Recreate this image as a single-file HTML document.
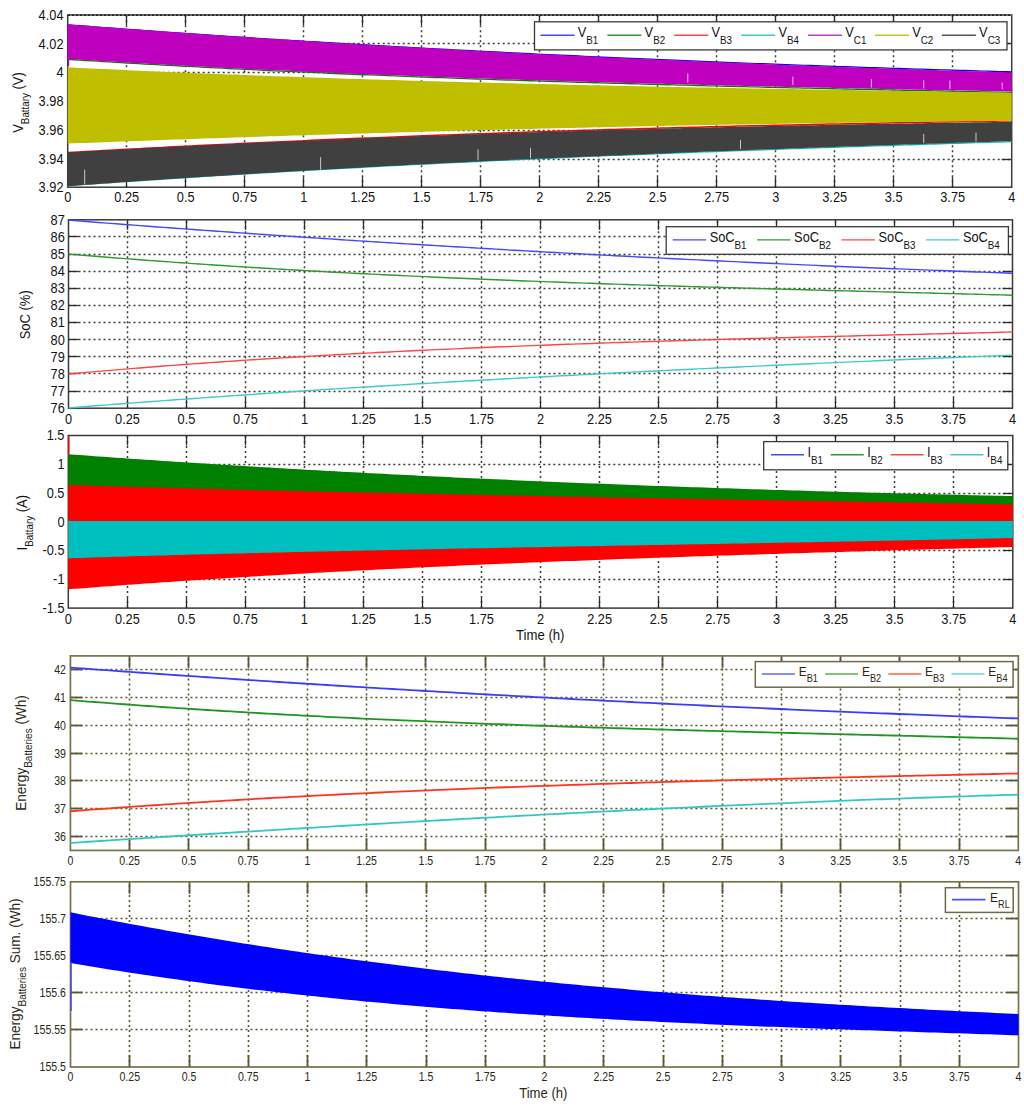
<!DOCTYPE html><html><head><meta charset="utf-8"><style>html,body{margin:0;padding:0;background:#fff;}svg{display:block;}</style></head><body>
<svg width="1024" height="1108" viewBox="0 0 1024 1108" font-family='"Liberation Sans", sans-serif'>
<rect width="1024" height="1108" fill="#fff"/>
<line x1="126.50" y1="187.20" x2="126.50" y2="15.00" stroke="#3a3a3a" stroke-width="1.5" stroke-dasharray="2 3"/>
<line x1="185.50" y1="187.20" x2="185.50" y2="15.00" stroke="#3a3a3a" stroke-width="1.5" stroke-dasharray="2 3"/>
<line x1="244.50" y1="187.20" x2="244.50" y2="15.00" stroke="#3a3a3a" stroke-width="1.5" stroke-dasharray="2 3"/>
<line x1="303.50" y1="187.20" x2="303.50" y2="15.00" stroke="#3a3a3a" stroke-width="1.5" stroke-dasharray="2 3"/>
<line x1="362.50" y1="187.20" x2="362.50" y2="15.00" stroke="#3a3a3a" stroke-width="1.5" stroke-dasharray="2 3"/>
<line x1="421.50" y1="187.20" x2="421.50" y2="15.00" stroke="#3a3a3a" stroke-width="1.5" stroke-dasharray="2 3"/>
<line x1="480.50" y1="187.20" x2="480.50" y2="15.00" stroke="#3a3a3a" stroke-width="1.5" stroke-dasharray="2 3"/>
<line x1="539.50" y1="187.20" x2="539.50" y2="15.00" stroke="#3a3a3a" stroke-width="1.5" stroke-dasharray="2 3"/>
<line x1="598.50" y1="187.20" x2="598.50" y2="15.00" stroke="#3a3a3a" stroke-width="1.5" stroke-dasharray="2 3"/>
<line x1="657.50" y1="187.20" x2="657.50" y2="15.00" stroke="#3a3a3a" stroke-width="1.5" stroke-dasharray="2 3"/>
<line x1="716.50" y1="187.20" x2="716.50" y2="15.00" stroke="#3a3a3a" stroke-width="1.5" stroke-dasharray="2 3"/>
<line x1="775.50" y1="187.20" x2="775.50" y2="15.00" stroke="#3a3a3a" stroke-width="1.5" stroke-dasharray="2 3"/>
<line x1="834.50" y1="187.20" x2="834.50" y2="15.00" stroke="#3a3a3a" stroke-width="1.5" stroke-dasharray="2 3"/>
<line x1="893.50" y1="187.20" x2="893.50" y2="15.00" stroke="#3a3a3a" stroke-width="1.5" stroke-dasharray="2 3"/>
<line x1="952.50" y1="187.20" x2="952.50" y2="15.00" stroke="#3a3a3a" stroke-width="1.5" stroke-dasharray="2 3"/>
<line x1="67.70" y1="159.50" x2="1011.70" y2="159.50" stroke="#3a3a3a" stroke-width="1.5" stroke-dasharray="2 3"/>
<line x1="67.70" y1="130.50" x2="1011.70" y2="130.50" stroke="#3a3a3a" stroke-width="1.5" stroke-dasharray="2 3"/>
<line x1="67.70" y1="101.50" x2="1011.70" y2="101.50" stroke="#3a3a3a" stroke-width="1.5" stroke-dasharray="2 3"/>
<line x1="67.70" y1="72.50" x2="1011.70" y2="72.50" stroke="#3a3a3a" stroke-width="1.5" stroke-dasharray="2 3"/>
<line x1="67.70" y1="43.50" x2="1011.70" y2="43.50" stroke="#3a3a3a" stroke-width="1.5" stroke-dasharray="2 3"/>
<line x1="126.50" y1="187.20" x2="126.50" y2="177.20" stroke="#2a2a2a" stroke-width="1.3"/>
<line x1="126.50" y1="15.00" x2="126.50" y2="25.00" stroke="#2a2a2a" stroke-width="1.3"/>
<line x1="185.50" y1="187.20" x2="185.50" y2="177.20" stroke="#2a2a2a" stroke-width="1.3"/>
<line x1="185.50" y1="15.00" x2="185.50" y2="25.00" stroke="#2a2a2a" stroke-width="1.3"/>
<line x1="244.50" y1="187.20" x2="244.50" y2="177.20" stroke="#2a2a2a" stroke-width="1.3"/>
<line x1="244.50" y1="15.00" x2="244.50" y2="25.00" stroke="#2a2a2a" stroke-width="1.3"/>
<line x1="303.50" y1="187.20" x2="303.50" y2="177.20" stroke="#2a2a2a" stroke-width="1.3"/>
<line x1="303.50" y1="15.00" x2="303.50" y2="25.00" stroke="#2a2a2a" stroke-width="1.3"/>
<line x1="362.50" y1="187.20" x2="362.50" y2="177.20" stroke="#2a2a2a" stroke-width="1.3"/>
<line x1="362.50" y1="15.00" x2="362.50" y2="25.00" stroke="#2a2a2a" stroke-width="1.3"/>
<line x1="421.50" y1="187.20" x2="421.50" y2="177.20" stroke="#2a2a2a" stroke-width="1.3"/>
<line x1="421.50" y1="15.00" x2="421.50" y2="25.00" stroke="#2a2a2a" stroke-width="1.3"/>
<line x1="480.50" y1="187.20" x2="480.50" y2="177.20" stroke="#2a2a2a" stroke-width="1.3"/>
<line x1="480.50" y1="15.00" x2="480.50" y2="25.00" stroke="#2a2a2a" stroke-width="1.3"/>
<line x1="539.50" y1="187.20" x2="539.50" y2="177.20" stroke="#2a2a2a" stroke-width="1.3"/>
<line x1="539.50" y1="15.00" x2="539.50" y2="25.00" stroke="#2a2a2a" stroke-width="1.3"/>
<line x1="598.50" y1="187.20" x2="598.50" y2="177.20" stroke="#2a2a2a" stroke-width="1.3"/>
<line x1="598.50" y1="15.00" x2="598.50" y2="25.00" stroke="#2a2a2a" stroke-width="1.3"/>
<line x1="657.50" y1="187.20" x2="657.50" y2="177.20" stroke="#2a2a2a" stroke-width="1.3"/>
<line x1="657.50" y1="15.00" x2="657.50" y2="25.00" stroke="#2a2a2a" stroke-width="1.3"/>
<line x1="716.50" y1="187.20" x2="716.50" y2="177.20" stroke="#2a2a2a" stroke-width="1.3"/>
<line x1="716.50" y1="15.00" x2="716.50" y2="25.00" stroke="#2a2a2a" stroke-width="1.3"/>
<line x1="775.50" y1="187.20" x2="775.50" y2="177.20" stroke="#2a2a2a" stroke-width="1.3"/>
<line x1="775.50" y1="15.00" x2="775.50" y2="25.00" stroke="#2a2a2a" stroke-width="1.3"/>
<line x1="834.50" y1="187.20" x2="834.50" y2="177.20" stroke="#2a2a2a" stroke-width="1.3"/>
<line x1="834.50" y1="15.00" x2="834.50" y2="25.00" stroke="#2a2a2a" stroke-width="1.3"/>
<line x1="893.50" y1="187.20" x2="893.50" y2="177.20" stroke="#2a2a2a" stroke-width="1.3"/>
<line x1="893.50" y1="15.00" x2="893.50" y2="25.00" stroke="#2a2a2a" stroke-width="1.3"/>
<line x1="952.50" y1="187.20" x2="952.50" y2="177.20" stroke="#2a2a2a" stroke-width="1.3"/>
<line x1="952.50" y1="15.00" x2="952.50" y2="25.00" stroke="#2a2a2a" stroke-width="1.3"/>
<line x1="67.70" y1="159.50" x2="77.70" y2="159.50" stroke="#2a2a2a" stroke-width="1.3"/>
<line x1="1011.70" y1="159.50" x2="1001.70" y2="159.50" stroke="#2a2a2a" stroke-width="1.3"/>
<line x1="67.70" y1="130.50" x2="77.70" y2="130.50" stroke="#2a2a2a" stroke-width="1.3"/>
<line x1="1011.70" y1="130.50" x2="1001.70" y2="130.50" stroke="#2a2a2a" stroke-width="1.3"/>
<line x1="67.70" y1="101.50" x2="77.70" y2="101.50" stroke="#2a2a2a" stroke-width="1.3"/>
<line x1="1011.70" y1="101.50" x2="1001.70" y2="101.50" stroke="#2a2a2a" stroke-width="1.3"/>
<line x1="67.70" y1="72.50" x2="77.70" y2="72.50" stroke="#2a2a2a" stroke-width="1.3"/>
<line x1="1011.70" y1="72.50" x2="1001.70" y2="72.50" stroke="#2a2a2a" stroke-width="1.3"/>
<line x1="67.70" y1="43.50" x2="77.70" y2="43.50" stroke="#2a2a2a" stroke-width="1.3"/>
<line x1="1011.70" y1="43.50" x2="1001.70" y2="43.50" stroke="#2a2a2a" stroke-width="1.3"/>
<rect x="67.70" y="15.00" width="944.00" height="172.20" fill="none" stroke="#3a3a3a" stroke-width="1.5"/>
<line x1="68" y1="15.2" x2="1012" y2="15.2" stroke="#111" stroke-width="1.2" stroke-dasharray="2 2"/>
<path d="M67.70,24.81 L73.64,25.26 L79.57,25.72 L85.51,26.17 L91.45,26.62 L97.39,27.06 L103.32,27.51 L109.26,27.95 L115.20,28.39 L121.13,28.83 L127.07,29.26 L133.01,29.69 L138.95,30.12 L144.88,30.55 L150.82,30.97 L156.76,31.40 L162.69,31.82 L168.63,32.24 L174.57,32.65 L180.51,33.07 L186.44,33.48 L192.38,33.89 L198.32,34.29 L204.25,34.70 L210.19,35.10 L216.13,35.50 L222.06,35.90 L228.00,36.29 L233.94,36.69 L239.88,37.08 L245.81,37.47 L251.75,37.86 L257.69,38.24 L263.62,38.62 L269.56,39.00 L275.50,39.38 L281.44,39.76 L287.37,40.13 L293.31,40.50 L299.25,40.87 L305.18,41.24 L311.12,41.61 L317.06,41.97 L323.00,42.33 L328.93,42.69 L334.87,43.05 L340.81,43.40 L346.74,43.75 L352.68,44.11 L358.62,44.45 L364.56,44.80 L370.49,45.15 L376.43,45.49 L382.37,45.83 L388.30,46.17 L394.24,46.50 L400.18,46.84 L406.12,47.17 L412.05,47.50 L417.99,47.83 L423.93,48.16 L429.86,48.48 L435.80,48.80 L441.74,49.12 L447.67,49.44 L453.61,49.76 L459.55,50.07 L465.49,50.39 L471.42,50.70 L477.36,51.01 L483.30,51.31 L489.23,51.62 L495.17,51.92 L501.11,52.22 L507.05,52.52 L512.98,52.82 L518.92,53.12 L524.86,53.41 L530.79,53.70 L536.73,53.99 L542.67,54.28 L548.61,54.57 L554.54,54.85 L560.48,55.13 L566.42,55.41 L572.35,55.69 L578.29,55.97 L584.23,56.25 L590.17,56.52 L596.10,56.79 L602.04,57.06 L607.98,57.33 L613.91,57.60 L619.85,57.86 L625.79,58.13 L631.73,58.39 L637.66,58.65 L643.60,58.90 L649.54,59.16 L655.47,59.42 L661.41,59.67 L667.35,59.92 L673.28,60.17 L679.22,60.42 L685.16,60.66 L691.10,60.91 L697.03,61.15 L702.97,61.39 L708.91,61.63 L714.84,61.87 L720.78,62.10 L726.72,62.34 L732.66,62.57 L738.59,62.80 L744.53,63.03 L750.47,63.26 L756.40,63.49 L762.34,63.71 L768.28,63.94 L774.22,64.16 L780.15,64.38 L786.09,64.60 L792.03,64.81 L797.96,65.03 L803.90,65.24 L809.84,65.46 L815.78,65.67 L821.71,65.88 L827.65,66.09 L833.59,66.29 L839.52,66.50 L845.46,66.70 L851.40,66.90 L857.34,67.10 L863.27,67.30 L869.21,67.50 L875.15,67.70 L881.08,67.89 L887.02,68.08 L892.96,68.28 L898.89,68.47 L904.83,68.66 L910.77,68.84 L916.71,69.03 L922.64,69.22 L928.58,69.40 L934.52,69.58 L940.45,69.76 L946.39,69.94 L952.33,70.12 L958.27,70.30 L964.20,70.47 L970.14,70.65 L976.08,70.82 L982.01,70.99 L987.95,71.16 L993.89,71.33 L999.83,71.50 L1005.76,71.66 L1011.70,71.83" fill="none" stroke="#0000ff" stroke-width="1.2"/>
<path d="M67.70,59.37 L73.64,59.75 L79.57,60.12 L85.51,60.49 L91.45,60.86 L97.39,61.22 L103.32,61.58 L109.26,61.94 L115.20,62.30 L121.13,62.65 L127.07,63.00 L133.01,63.35 L138.95,63.69 L144.88,64.03 L150.82,64.37 L156.76,64.70 L162.69,65.03 L168.63,65.36 L174.57,65.69 L180.51,66.01 L186.44,66.33 L192.38,66.65 L198.32,66.96 L204.25,67.28 L210.19,67.59 L216.13,67.89 L222.06,68.20 L228.00,68.50 L233.94,68.80 L239.88,69.09 L245.81,69.38 L251.75,69.67 L257.69,69.96 L263.62,70.25 L269.56,70.53 L275.50,70.81 L281.44,71.09 L287.37,71.37 L293.31,71.64 L299.25,71.91 L305.18,72.18 L311.12,72.44 L317.06,72.71 L323.00,72.97 L328.93,73.23 L334.87,73.48 L340.81,73.74 L346.74,73.99 L352.68,74.24 L358.62,74.48 L364.56,74.73 L370.49,74.97 L376.43,75.21 L382.37,75.45 L388.30,75.69 L394.24,75.92 L400.18,76.15 L406.12,76.38 L412.05,76.61 L417.99,76.84 L423.93,77.06 L429.86,77.28 L435.80,77.50 L441.74,77.72 L447.67,77.94 L453.61,78.15 L459.55,78.36 L465.49,78.57 L471.42,78.78 L477.36,78.99 L483.30,79.19 L489.23,79.39 L495.17,79.60 L501.11,79.79 L507.05,79.99 L512.98,80.19 L518.92,80.38 L524.86,80.57 L530.79,80.77 L536.73,80.95 L542.67,81.14 L548.61,81.33 L554.54,81.51 L560.48,81.69 L566.42,81.88 L572.35,82.05 L578.29,82.23 L584.23,82.41 L590.17,82.58 L596.10,82.76 L602.04,82.93 L607.98,83.10 L613.91,83.27 L619.85,83.44 L625.79,83.60 L631.73,83.77 L637.66,83.93 L643.60,84.10 L649.54,84.26 L655.47,84.42 L661.41,84.58 L667.35,84.73 L673.28,84.89 L679.22,85.05 L685.16,85.20 L691.10,85.35 L697.03,85.50 L702.97,85.66 L708.91,85.80 L714.84,85.95 L720.78,86.10 L726.72,86.25 L732.66,86.39 L738.59,86.54 L744.53,86.68 L750.47,86.82 L756.40,86.96 L762.34,87.11 L768.28,87.25 L774.22,87.38 L780.15,87.52 L786.09,87.66 L792.03,87.80 L797.96,87.93 L803.90,88.07 L809.84,88.20 L815.78,88.33 L821.71,88.47 L827.65,88.60 L833.59,88.73 L839.52,88.86 L845.46,88.99 L851.40,89.12 L857.34,89.25 L863.27,89.38 L869.21,89.51 L875.15,89.63 L881.08,89.76 L887.02,89.89 L892.96,90.01 L898.89,90.14 L904.83,90.26 L910.77,90.39 L916.71,90.51 L922.64,90.64 L928.58,90.76 L934.52,90.88 L940.45,91.00 L946.39,91.13 L952.33,91.25 L958.27,91.37 L964.20,91.49 L970.14,91.61 L976.08,91.74 L982.01,91.86 L987.95,91.98 L993.89,92.10 L999.83,92.22 L1005.76,92.34 L1011.70,92.46" fill="none" stroke="#008000" stroke-width="1.3"/>
<path d="M67.70,152.55 L73.64,152.21 L79.57,151.88 L85.51,151.54 L91.45,151.21 L97.39,150.88 L103.32,150.56 L109.26,150.23 L115.20,149.91 L121.13,149.59 L127.07,149.27 L133.01,148.95 L138.95,148.64 L144.88,148.33 L150.82,148.02 L156.76,147.71 L162.69,147.40 L168.63,147.10 L174.57,146.79 L180.51,146.49 L186.44,146.20 L192.38,145.90 L198.32,145.60 L204.25,145.31 L210.19,145.02 L216.13,144.73 L222.06,144.44 L228.00,144.16 L233.94,143.88 L239.88,143.59 L245.81,143.32 L251.75,143.04 L257.69,142.76 L263.62,142.49 L269.56,142.22 L275.50,141.95 L281.44,141.68 L287.37,141.41 L293.31,141.15 L299.25,140.89 L305.18,140.63 L311.12,140.37 L317.06,140.11 L323.00,139.85 L328.93,139.60 L334.87,139.35 L340.81,139.10 L346.74,138.85 L352.68,138.61 L358.62,138.36 L364.56,138.12 L370.49,137.88 L376.43,137.64 L382.37,137.40 L388.30,137.17 L394.24,136.93 L400.18,136.70 L406.12,136.47 L412.05,136.24 L417.99,136.01 L423.93,135.79 L429.86,135.56 L435.80,135.34 L441.74,135.12 L447.67,134.90 L453.61,134.69 L459.55,134.47 L465.49,134.26 L471.42,134.05 L477.36,133.84 L483.30,133.63 L489.23,133.42 L495.17,133.21 L501.11,133.01 L507.05,132.81 L512.98,132.61 L518.92,132.41 L524.86,132.21 L530.79,132.02 L536.73,131.82 L542.67,131.63 L548.61,131.44 L554.54,131.25 L560.48,131.06 L566.42,130.88 L572.35,130.69 L578.29,130.51 L584.23,130.33 L590.17,130.15 L596.10,129.97 L602.04,129.79 L607.98,129.62 L613.91,129.44 L619.85,129.27 L625.79,129.10 L631.73,128.93 L637.66,128.76 L643.60,128.59 L649.54,128.43 L655.47,128.26 L661.41,128.10 L667.35,127.94 L673.28,127.78 L679.22,127.62 L685.16,127.47 L691.10,127.31 L697.03,127.16 L702.97,127.01 L708.91,126.86 L714.84,126.71 L720.78,126.56 L726.72,126.41 L732.66,126.27 L738.59,126.12 L744.53,125.98 L750.47,125.84 L756.40,125.70 L762.34,125.56 L768.28,125.42 L774.22,125.29 L780.15,125.15 L786.09,125.02 L792.03,124.89 L797.96,124.76 L803.90,124.63 L809.84,124.50 L815.78,124.37 L821.71,124.25 L827.65,124.12 L833.59,124.00 L839.52,123.88 L845.46,123.76 L851.40,123.64 L857.34,123.52 L863.27,123.41 L869.21,123.29 L875.15,123.18 L881.08,123.06 L887.02,122.95 L892.96,122.84 L898.89,122.73 L904.83,122.62 L910.77,122.52 L916.71,122.41 L922.64,122.31 L928.58,122.20 L934.52,122.10 L940.45,122.00 L946.39,121.90 L952.33,121.80 L958.27,121.70 L964.20,121.61 L970.14,121.51 L976.08,121.42 L982.01,121.32 L987.95,121.23 L993.89,121.14 L999.83,121.05 L1005.76,120.96 L1011.70,120.87" fill="none" stroke="#ff0000" stroke-width="1.5"/>
<path d="M67.70,185.77 L73.64,185.34 L79.57,184.92 L85.51,184.49 L91.45,184.07 L97.39,183.65 L103.32,183.23 L109.26,182.81 L115.20,182.40 L121.13,181.99 L127.07,181.58 L133.01,181.18 L138.95,180.78 L144.88,180.38 L150.82,179.98 L156.76,179.58 L162.69,179.19 L168.63,178.80 L174.57,178.41 L180.51,178.03 L186.44,177.65 L192.38,177.27 L198.32,176.89 L204.25,176.51 L210.19,176.14 L216.13,175.77 L222.06,175.40 L228.00,175.03 L233.94,174.67 L239.88,174.31 L245.81,173.95 L251.75,173.59 L257.69,173.23 L263.62,172.88 L269.56,172.53 L275.50,172.18 L281.44,171.84 L287.37,171.49 L293.31,171.15 L299.25,170.81 L305.18,170.47 L311.12,170.14 L317.06,169.80 L323.00,169.47 L328.93,169.14 L334.87,168.82 L340.81,168.49 L346.74,168.17 L352.68,167.85 L358.62,167.53 L364.56,167.21 L370.49,166.89 L376.43,166.58 L382.37,166.27 L388.30,165.96 L394.24,165.65 L400.18,165.35 L406.12,165.05 L412.05,164.74 L417.99,164.44 L423.93,164.15 L429.86,163.85 L435.80,163.56 L441.74,163.26 L447.67,162.97 L453.61,162.69 L459.55,162.40 L465.49,162.11 L471.42,161.83 L477.36,161.55 L483.30,161.27 L489.23,160.99 L495.17,160.71 L501.11,160.44 L507.05,160.17 L512.98,159.89 L518.92,159.63 L524.86,159.36 L530.79,159.09 L536.73,158.83 L542.67,158.56 L548.61,158.30 L554.54,158.04 L560.48,157.78 L566.42,157.53 L572.35,157.27 L578.29,157.02 L584.23,156.76 L590.17,156.51 L596.10,156.26 L602.04,156.02 L607.98,155.77 L613.91,155.52 L619.85,155.28 L625.79,155.04 L631.73,154.80 L637.66,154.56 L643.60,154.32 L649.54,154.08 L655.47,153.85 L661.41,153.61 L667.35,153.38 L673.28,153.15 L679.22,152.92 L685.16,152.69 L691.10,152.46 L697.03,152.24 L702.97,152.01 L708.91,151.79 L714.84,151.56 L720.78,151.34 L726.72,151.12 L732.66,150.90 L738.59,150.69 L744.53,150.47 L750.47,150.25 L756.40,150.04 L762.34,149.83 L768.28,149.61 L774.22,149.40 L780.15,149.19 L786.09,148.98 L792.03,148.77 L797.96,148.57 L803.90,148.36 L809.84,148.16 L815.78,147.95 L821.71,147.75 L827.65,147.55 L833.59,147.35 L839.52,147.15 L845.46,146.95 L851.40,146.75 L857.34,146.55 L863.27,146.35 L869.21,146.16 L875.15,145.96 L881.08,145.77 L887.02,145.58 L892.96,145.38 L898.89,145.19 L904.83,145.00 L910.77,144.81 L916.71,144.62 L922.64,144.43 L928.58,144.25 L934.52,144.06 L940.45,143.87 L946.39,143.69 L952.33,143.50 L958.27,143.32 L964.20,143.13 L970.14,142.95 L976.08,142.77 L982.01,142.59 L987.95,142.40 L993.89,142.22 L999.83,142.04 L1005.76,141.86 L1011.70,141.68" fill="none" stroke="#00bfbf" stroke-width="1.2"/>
<path d="M67.70,24.21 L73.64,24.67 L79.57,25.13 L85.51,25.59 L91.45,26.05 L97.39,26.50 L103.32,26.95 L109.26,27.40 L115.20,27.85 L121.13,28.29 L127.07,28.74 L133.01,29.17 L138.95,29.61 L144.88,30.05 L150.82,30.48 L156.76,30.91 L162.69,31.34 L168.63,31.76 L174.57,32.19 L180.51,32.61 L186.44,33.03 L192.38,33.45 L198.32,33.86 L204.25,34.27 L210.19,34.68 L216.13,35.09 L222.06,35.50 L228.00,35.90 L233.94,36.30 L239.88,36.70 L245.81,37.10 L251.75,37.49 L257.69,37.88 L263.62,38.27 L269.56,38.66 L275.50,39.05 L281.44,39.43 L287.37,39.81 L293.31,40.19 L299.25,40.57 L305.18,40.94 L311.12,41.32 L317.06,41.69 L323.00,42.06 L328.93,42.42 L334.87,42.79 L340.81,43.15 L346.74,43.51 L352.68,43.87 L358.62,44.22 L364.56,44.58 L370.49,44.93 L376.43,45.28 L382.37,45.63 L388.30,45.97 L394.24,46.32 L400.18,46.66 L406.12,47.00 L412.05,47.34 L417.99,47.68 L423.93,48.01 L429.86,48.34 L435.80,48.67 L441.74,49.00 L447.67,49.33 L453.61,49.65 L459.55,49.97 L465.49,50.29 L471.42,50.61 L477.36,50.93 L483.30,51.24 L489.23,51.55 L495.17,51.87 L501.11,52.17 L507.05,52.48 L512.98,52.79 L518.92,53.09 L524.86,53.39 L530.79,53.69 L536.73,53.99 L542.67,54.28 L548.61,54.58 L554.54,54.87 L560.48,55.16 L566.42,55.45 L572.35,55.74 L578.29,56.02 L584.23,56.30 L590.17,56.58 L596.10,56.86 L602.04,57.14 L607.98,57.42 L613.91,57.69 L619.85,57.96 L625.79,58.24 L631.73,58.50 L637.66,58.77 L643.60,59.04 L649.54,59.30 L655.47,59.56 L661.41,59.82 L667.35,60.08 L673.28,60.34 L679.22,60.59 L685.16,60.85 L691.10,61.10 L697.03,61.35 L702.97,61.60 L708.91,61.85 L714.84,62.09 L720.78,62.33 L726.72,62.58 L732.66,62.82 L738.59,63.06 L744.53,63.29 L750.47,63.53 L756.40,63.76 L762.34,64.00 L768.28,64.23 L774.22,64.46 L780.15,64.68 L786.09,64.91 L792.03,65.14 L797.96,65.36 L803.90,65.58 L809.84,65.80 L815.78,66.02 L821.71,66.24 L827.65,66.45 L833.59,66.67 L839.52,66.88 L845.46,67.09 L851.40,67.30 L857.34,67.51 L863.27,67.71 L869.21,67.92 L875.15,68.12 L881.08,68.33 L887.02,68.53 L892.96,68.73 L898.89,68.92 L904.83,69.12 L910.77,69.32 L916.71,69.51 L922.64,69.70 L928.58,69.89 L934.52,70.08 L940.45,70.27 L946.39,70.46 L952.33,70.64 L958.27,70.83 L964.20,71.01 L970.14,71.19 L976.08,71.37 L982.01,71.55 L987.95,71.73 L993.89,71.91 L999.83,72.08 L1005.76,72.25 L1011.70,72.43 L1011.70,91.56 L1005.76,91.44 L999.83,91.33 L993.89,91.21 L987.95,91.09 L982.01,90.97 L976.08,90.85 L970.14,90.74 L964.20,90.62 L958.27,90.50 L952.33,90.38 L946.39,90.26 L940.45,90.14 L934.52,90.02 L928.58,89.90 L922.64,89.78 L916.71,89.66 L910.77,89.54 L904.83,89.42 L898.89,89.30 L892.96,89.18 L887.02,89.05 L881.08,88.93 L875.15,88.81 L869.21,88.68 L863.27,88.56 L857.34,88.43 L851.40,88.31 L845.46,88.18 L839.52,88.05 L833.59,87.93 L827.65,87.80 L821.71,87.67 L815.78,87.54 L809.84,87.41 L803.90,87.28 L797.96,87.15 L792.03,87.01 L786.09,86.88 L780.15,86.75 L774.22,86.61 L768.28,86.47 L762.34,86.34 L756.40,86.20 L750.47,86.06 L744.53,85.92 L738.59,85.78 L732.66,85.64 L726.72,85.50 L720.78,85.35 L714.84,85.21 L708.91,85.07 L702.97,84.92 L697.03,84.77 L691.10,84.62 L685.16,84.47 L679.22,84.32 L673.28,84.17 L667.35,84.02 L661.41,83.86 L655.47,83.71 L649.54,83.55 L643.60,83.39 L637.66,83.23 L631.73,83.07 L625.79,82.91 L619.85,82.75 L613.91,82.58 L607.98,82.41 L602.04,82.25 L596.10,82.08 L590.17,81.91 L584.23,81.74 L578.29,81.56 L572.35,81.39 L566.42,81.21 L560.48,81.03 L554.54,80.85 L548.61,80.67 L542.67,80.49 L536.73,80.31 L530.79,80.12 L524.86,79.93 L518.92,79.74 L512.98,79.55 L507.05,79.36 L501.11,79.17 L495.17,78.97 L489.23,78.77 L483.30,78.57 L477.36,78.37 L471.42,78.17 L465.49,77.96 L459.55,77.75 L453.61,77.55 L447.67,77.33 L441.74,77.12 L435.80,76.91 L429.86,76.69 L423.93,76.47 L417.99,76.25 L412.05,76.03 L406.12,75.80 L400.18,75.58 L394.24,75.35 L388.30,75.12 L382.37,74.88 L376.43,74.65 L370.49,74.41 L364.56,74.17 L358.62,73.93 L352.68,73.69 L346.74,73.44 L340.81,73.19 L334.87,72.94 L328.93,72.69 L323.00,72.43 L317.06,72.17 L311.12,71.91 L305.18,71.65 L299.25,71.39 L293.31,71.12 L287.37,70.85 L281.44,70.58 L275.50,70.30 L269.56,70.02 L263.62,69.74 L257.69,69.46 L251.75,69.18 L245.81,68.89 L239.88,68.60 L233.94,68.31 L228.00,68.01 L222.06,67.71 L216.13,67.41 L210.19,67.11 L204.25,66.80 L198.32,66.49 L192.38,66.18 L186.44,65.87 L180.51,65.55 L174.57,65.23 L168.63,64.91 L162.69,64.58 L156.76,64.25 L150.82,63.92 L144.88,63.59 L138.95,63.25 L133.01,62.91 L127.07,62.57 L121.13,62.22 L115.20,61.87 L109.26,61.52 L103.32,61.17 L97.39,60.81 L91.45,60.45 L85.51,60.08 L79.57,59.71 L73.64,59.34 L67.70,58.97Z" fill="#bf00bf"/>
<path d="M67.70,67.29 L73.64,67.59 L79.57,67.88 L85.51,68.17 L91.45,68.46 L97.39,68.74 L103.32,69.02 L109.26,69.30 L115.20,69.58 L121.13,69.85 L127.07,70.13 L133.01,70.40 L138.95,70.66 L144.88,70.93 L150.82,71.19 L156.76,71.45 L162.69,71.71 L168.63,71.96 L174.57,72.22 L180.51,72.47 L186.44,72.72 L192.38,72.96 L198.32,73.21 L204.25,73.45 L210.19,73.69 L216.13,73.93 L222.06,74.16 L228.00,74.39 L233.94,74.62 L239.88,74.85 L245.81,75.08 L251.75,75.30 L257.69,75.53 L263.62,75.75 L269.56,75.97 L275.50,76.18 L281.44,76.40 L287.37,76.61 L293.31,76.82 L299.25,77.03 L305.18,77.23 L311.12,77.44 L317.06,77.64 L323.00,77.84 L328.93,78.04 L334.87,78.24 L340.81,78.43 L346.74,78.63 L352.68,78.82 L358.62,79.01 L364.56,79.19 L370.49,79.38 L376.43,79.56 L382.37,79.75 L388.30,79.93 L394.24,80.11 L400.18,80.28 L406.12,80.46 L412.05,80.63 L417.99,80.81 L423.93,80.98 L429.86,81.15 L435.80,81.31 L441.74,81.48 L447.67,81.65 L453.61,81.81 L459.55,81.97 L465.49,82.13 L471.42,82.29 L477.36,82.45 L483.30,82.60 L489.23,82.76 L495.17,82.91 L501.11,83.06 L507.05,83.21 L512.98,83.36 L518.92,83.51 L524.86,83.65 L530.79,83.80 L536.73,83.94 L542.67,84.08 L548.61,84.22 L554.54,84.36 L560.48,84.50 L566.42,84.64 L572.35,84.77 L578.29,84.91 L584.23,85.04 L590.17,85.17 L596.10,85.31 L602.04,85.44 L607.98,85.57 L613.91,85.69 L619.85,85.82 L625.79,85.95 L631.73,86.07 L637.66,86.19 L643.60,86.32 L649.54,86.44 L655.47,86.56 L661.41,86.68 L667.35,86.80 L673.28,86.92 L679.22,87.03 L685.16,87.15 L691.10,87.27 L697.03,87.38 L702.97,87.50 L708.91,87.61 L714.84,87.72 L720.78,87.83 L726.72,87.94 L732.66,88.05 L738.59,88.16 L744.53,88.27 L750.47,88.38 L756.40,88.48 L762.34,88.59 L768.28,88.70 L774.22,88.80 L780.15,88.91 L786.09,89.01 L792.03,89.11 L797.96,89.22 L803.90,89.32 L809.84,89.42 L815.78,89.52 L821.71,89.62 L827.65,89.72 L833.59,89.82 L839.52,89.92 L845.46,90.02 L851.40,90.12 L857.34,90.22 L863.27,90.32 L869.21,90.41 L875.15,90.51 L881.08,90.61 L887.02,90.70 L892.96,90.80 L898.89,90.89 L904.83,90.99 L910.77,91.09 L916.71,91.18 L922.64,91.28 L928.58,91.37 L934.52,91.46 L940.45,91.56 L946.39,91.65 L952.33,91.75 L958.27,91.84 L964.20,91.93 L970.14,92.03 L976.08,92.12 L982.01,92.22 L987.95,92.31 L993.89,92.40 L999.83,92.50 L1005.76,92.59 L1011.70,92.68 L1011.70,120.91 L1005.76,120.97 L999.83,121.02 L993.89,121.07 L987.95,121.12 L982.01,121.18 L976.08,121.24 L970.14,121.29 L964.20,121.35 L958.27,121.41 L952.33,121.47 L946.39,121.54 L940.45,121.60 L934.52,121.67 L928.58,121.73 L922.64,121.80 L916.71,121.87 L910.77,121.94 L904.83,122.01 L898.89,122.08 L892.96,122.16 L887.02,122.23 L881.08,122.31 L875.15,122.39 L869.21,122.46 L863.27,122.54 L857.34,122.62 L851.40,122.71 L845.46,122.79 L839.52,122.87 L833.59,122.96 L827.65,123.05 L821.71,123.14 L815.78,123.22 L809.84,123.32 L803.90,123.41 L797.96,123.50 L792.03,123.59 L786.09,123.69 L780.15,123.79 L774.22,123.88 L768.28,123.98 L762.34,124.08 L756.40,124.18 L750.47,124.29 L744.53,124.39 L738.59,124.49 L732.66,124.60 L726.72,124.71 L720.78,124.82 L714.84,124.93 L708.91,125.04 L702.97,125.15 L697.03,125.26 L691.10,125.37 L685.16,125.49 L679.22,125.61 L673.28,125.72 L667.35,125.84 L661.41,125.96 L655.47,126.08 L649.54,126.21 L643.60,126.33 L637.66,126.45 L631.73,126.58 L625.79,126.71 L619.85,126.83 L613.91,126.96 L607.98,127.09 L602.04,127.23 L596.10,127.36 L590.17,127.49 L584.23,127.63 L578.29,127.76 L572.35,127.90 L566.42,128.04 L560.48,128.18 L554.54,128.32 L548.61,128.46 L542.67,128.60 L536.73,128.75 L530.79,128.89 L524.86,129.04 L518.92,129.19 L512.98,129.33 L507.05,129.48 L501.11,129.63 L495.17,129.79 L489.23,129.94 L483.30,130.09 L477.36,130.25 L471.42,130.40 L465.49,130.56 L459.55,130.72 L453.61,130.88 L447.67,131.04 L441.74,131.20 L435.80,131.37 L429.86,131.53 L423.93,131.70 L417.99,131.86 L412.05,132.03 L406.12,132.20 L400.18,132.37 L394.24,132.54 L388.30,132.71 L382.37,132.88 L376.43,133.06 L370.49,133.23 L364.56,133.41 L358.62,133.59 L352.68,133.76 L346.74,133.94 L340.81,134.12 L334.87,134.31 L328.93,134.49 L323.00,134.67 L317.06,134.86 L311.12,135.04 L305.18,135.23 L299.25,135.42 L293.31,135.61 L287.37,135.80 L281.44,135.99 L275.50,136.18 L269.56,136.37 L263.62,136.57 L257.69,136.76 L251.75,136.96 L245.81,137.16 L239.88,137.36 L233.94,137.56 L228.00,137.76 L222.06,137.96 L216.13,138.16 L210.19,138.37 L204.25,138.57 L198.32,138.78 L192.38,138.99 L186.44,139.20 L180.51,139.40 L174.57,139.61 L168.63,139.83 L162.69,140.04 L156.76,140.25 L150.82,140.47 L144.88,140.68 L138.95,140.90 L133.01,141.12 L127.07,141.34 L121.13,141.56 L115.20,141.78 L109.26,142.00 L103.32,142.22 L97.39,142.45 L91.45,142.67 L85.51,142.90 L79.57,143.12 L73.64,143.35 L67.70,143.58Z" fill="#bfbf00"/>
<path d="M67.70,152.35 L73.64,152.02 L79.57,151.69 L85.51,151.37 L91.45,151.04 L97.39,150.72 L103.32,150.40 L109.26,150.08 L115.20,149.77 L121.13,149.46 L127.07,149.15 L133.01,148.84 L138.95,148.53 L144.88,148.22 L150.82,147.92 L156.76,147.62 L162.69,147.32 L168.63,147.03 L174.57,146.73 L180.51,146.44 L186.44,146.15 L192.38,145.86 L198.32,145.57 L204.25,145.28 L210.19,145.00 L216.13,144.72 L222.06,144.44 L228.00,144.16 L233.94,143.89 L239.88,143.61 L245.81,143.34 L251.75,143.07 L257.69,142.80 L263.62,142.54 L269.56,142.27 L275.50,142.01 L281.44,141.75 L287.37,141.49 L293.31,141.24 L299.25,140.98 L305.18,140.73 L311.12,140.48 L317.06,140.23 L323.00,139.98 L328.93,139.73 L334.87,139.49 L340.81,139.25 L346.74,139.01 L352.68,138.77 L358.62,138.53 L364.56,138.30 L370.49,138.06 L376.43,137.83 L382.37,137.60 L388.30,137.37 L394.24,137.15 L400.18,136.92 L406.12,136.70 L412.05,136.48 L417.99,136.26 L423.93,136.04 L429.86,135.82 L435.80,135.61 L441.74,135.40 L447.67,135.19 L453.61,134.98 L459.55,134.77 L465.49,134.56 L471.42,134.36 L477.36,134.16 L483.30,133.96 L489.23,133.76 L495.17,133.56 L501.11,133.36 L507.05,133.17 L512.98,132.97 L518.92,132.78 L524.86,132.59 L530.79,132.41 L536.73,132.22 L542.67,132.03 L548.61,131.85 L554.54,131.67 L560.48,131.49 L566.42,131.31 L572.35,131.13 L578.29,130.96 L584.23,130.78 L590.17,130.61 L596.10,130.44 L602.04,130.27 L607.98,130.10 L613.91,129.94 L619.85,129.77 L625.79,129.61 L631.73,129.45 L637.66,129.28 L643.60,129.13 L649.54,128.97 L655.47,128.81 L661.41,128.66 L667.35,128.50 L673.28,128.35 L679.22,128.20 L685.16,128.05 L691.10,127.91 L697.03,127.76 L702.97,127.61 L708.91,127.47 L714.84,127.33 L720.78,127.19 L726.72,127.05 L732.66,126.91 L738.59,126.78 L744.53,126.64 L750.47,126.51 L756.40,126.38 L762.34,126.24 L768.28,126.11 L774.22,125.99 L780.15,125.86 L786.09,125.73 L792.03,125.61 L797.96,125.49 L803.90,125.36 L809.84,125.24 L815.78,125.13 L821.71,125.01 L827.65,124.89 L833.59,124.78 L839.52,124.66 L845.46,124.55 L851.40,124.44 L857.34,124.33 L863.27,124.22 L869.21,124.11 L875.15,124.00 L881.08,123.90 L887.02,123.79 L892.96,123.69 L898.89,123.59 L904.83,123.49 L910.77,123.39 L916.71,123.29 L922.64,123.19 L928.58,123.10 L934.52,123.00 L940.45,122.91 L946.39,122.82 L952.33,122.73 L958.27,122.64 L964.20,122.55 L970.14,122.46 L976.08,122.37 L982.01,122.29 L987.95,122.20 L993.89,122.12 L999.83,122.04 L1005.76,121.95 L1011.70,121.87 L1011.70,141.18 L1005.76,141.37 L999.83,141.55 L993.89,141.74 L987.95,141.93 L982.01,142.11 L976.08,142.30 L970.14,142.49 L964.20,142.68 L958.27,142.87 L952.33,143.06 L946.39,143.25 L940.45,143.44 L934.52,143.63 L928.58,143.82 L922.64,144.02 L916.71,144.21 L910.77,144.41 L904.83,144.60 L898.89,144.80 L892.96,145.00 L887.02,145.19 L881.08,145.39 L875.15,145.59 L869.21,145.79 L863.27,146.00 L857.34,146.20 L851.40,146.40 L845.46,146.61 L839.52,146.81 L833.59,147.02 L827.65,147.22 L821.71,147.43 L815.78,147.64 L809.84,147.85 L803.90,148.06 L797.96,148.27 L792.03,148.48 L786.09,148.70 L780.15,148.91 L774.22,149.13 L768.28,149.35 L762.34,149.56 L756.40,149.78 L750.47,150.00 L744.53,150.22 L738.59,150.45 L732.66,150.67 L726.72,150.89 L720.78,151.12 L714.84,151.35 L708.91,151.58 L702.97,151.81 L697.03,152.04 L691.10,152.27 L685.16,152.50 L679.22,152.74 L673.28,152.97 L667.35,153.21 L661.41,153.45 L655.47,153.69 L649.54,153.93 L643.60,154.17 L637.66,154.41 L631.73,154.66 L625.79,154.91 L619.85,155.15 L613.91,155.40 L607.98,155.65 L602.04,155.91 L596.10,156.16 L590.17,156.41 L584.23,156.67 L578.29,156.93 L572.35,157.19 L566.42,157.45 L560.48,157.71 L554.54,157.98 L548.61,158.24 L542.67,158.51 L536.73,158.78 L530.79,159.05 L524.86,159.32 L518.92,159.59 L512.98,159.87 L507.05,160.15 L501.11,160.43 L495.17,160.71 L489.23,160.99 L483.30,161.27 L477.36,161.56 L471.42,161.85 L465.49,162.13 L459.55,162.42 L453.61,162.72 L447.67,163.01 L441.74,163.31 L435.80,163.61 L429.86,163.91 L423.93,164.21 L417.99,164.51 L412.05,164.82 L406.12,165.12 L400.18,165.43 L394.24,165.74 L388.30,166.06 L382.37,166.37 L376.43,166.69 L370.49,167.01 L364.56,167.33 L358.62,167.65 L352.68,167.97 L346.74,168.30 L340.81,168.63 L334.87,168.96 L328.93,169.29 L323.00,169.63 L317.06,169.97 L311.12,170.30 L305.18,170.65 L299.25,170.99 L293.31,171.33 L287.37,171.68 L281.44,172.03 L275.50,172.38 L269.56,172.74 L263.62,173.09 L257.69,173.45 L251.75,173.81 L245.81,174.18 L239.88,174.54 L233.94,174.91 L228.00,175.28 L222.06,175.65 L216.13,176.03 L210.19,176.40 L204.25,176.78 L198.32,177.16 L192.38,177.55 L186.44,177.93 L180.51,178.32 L174.57,178.71 L168.63,179.11 L162.69,179.50 L156.76,179.90 L150.82,180.30 L144.88,180.70 L138.95,181.11 L133.01,181.52 L127.07,181.93 L121.13,182.34 L115.20,182.76 L109.26,183.17 L103.32,183.60 L97.39,184.02 L91.45,184.44 L85.51,184.87 L79.57,185.30 L73.64,185.74 L67.70,186.17Z" fill="#404040"/>
<line x1="68.6" y1="59" x2="68.6" y2="66" stroke="#bf00bf" stroke-width="1.2"/>
<line x1="84.7" y1="169.7" x2="84.7" y2="184.4" stroke="#c8c8c8" stroke-width="1"/>
<line x1="320.6" y1="157.1" x2="320.6" y2="169.7" stroke="#c8c8c8" stroke-width="1"/>
<line x1="478.0" y1="149.4" x2="478.0" y2="160.3" stroke="#c8c8c8" stroke-width="1"/>
<line x1="530.5" y1="147.8" x2="530.5" y2="158.1" stroke="#c8c8c8" stroke-width="1"/>
<line x1="740.5" y1="139.9" x2="740.5" y2="149.0" stroke="#c8c8c8" stroke-width="1"/>
<line x1="923.7" y1="134.0" x2="923.7" y2="143.1" stroke="#c8c8c8" stroke-width="1"/>
<line x1="976.0" y1="132.7" x2="976.0" y2="141.5" stroke="#c8c8c8" stroke-width="1"/>
<line x1="687.8" y1="73.5" x2="687.8" y2="82.5" stroke="#f2c8f2" stroke-width="1"/>
<line x1="792.9" y1="76.7" x2="792.9" y2="84.9" stroke="#f2c8f2" stroke-width="1"/>
<line x1="871.4" y1="79.3" x2="871.4" y2="87.5" stroke="#f2c8f2" stroke-width="1"/>
<line x1="923.7" y1="80.3" x2="923.7" y2="88.5" stroke="#f2c8f2" stroke-width="1"/>
<line x1="949.9" y1="80.6" x2="949.9" y2="89.0" stroke="#f2c8f2" stroke-width="1"/>
<line x1="1002.2" y1="82.6" x2="1002.2" y2="89.2" stroke="#f2c8f2" stroke-width="1"/>
<g fill="#141414">
<text transform="translate(67.70,202.20) scale(1.0,1.12)" font-size="12.8" text-anchor="middle">0</text>
<text transform="translate(126.70,202.20) scale(1.0,1.12)" font-size="12.8" text-anchor="middle">0.25</text>
<text transform="translate(185.70,202.20) scale(1.0,1.12)" font-size="12.8" text-anchor="middle">0.5</text>
<text transform="translate(244.70,202.20) scale(1.0,1.12)" font-size="12.8" text-anchor="middle">0.75</text>
<text transform="translate(303.70,202.20) scale(1.0,1.12)" font-size="12.8" text-anchor="middle">1</text>
<text transform="translate(362.70,202.20) scale(1.0,1.12)" font-size="12.8" text-anchor="middle">1.25</text>
<text transform="translate(421.70,202.20) scale(1.0,1.12)" font-size="12.8" text-anchor="middle">1.5</text>
<text transform="translate(480.70,202.20) scale(1.0,1.12)" font-size="12.8" text-anchor="middle">1.75</text>
<text transform="translate(539.70,202.20) scale(1.0,1.12)" font-size="12.8" text-anchor="middle">2</text>
<text transform="translate(598.70,202.20) scale(1.0,1.12)" font-size="12.8" text-anchor="middle">2.25</text>
<text transform="translate(657.70,202.20) scale(1.0,1.12)" font-size="12.8" text-anchor="middle">2.5</text>
<text transform="translate(716.70,202.20) scale(1.0,1.12)" font-size="12.8" text-anchor="middle">2.75</text>
<text transform="translate(775.70,202.20) scale(1.0,1.12)" font-size="12.8" text-anchor="middle">3</text>
<text transform="translate(834.70,202.20) scale(1.0,1.12)" font-size="12.8" text-anchor="middle">3.25</text>
<text transform="translate(893.70,202.20) scale(1.0,1.12)" font-size="12.8" text-anchor="middle">3.5</text>
<text transform="translate(952.70,202.20) scale(1.0,1.12)" font-size="12.8" text-anchor="middle">3.75</text>
<text transform="translate(1011.70,202.20) scale(1.0,1.12)" font-size="12.8" text-anchor="middle">4</text>
<text transform="translate(63.50,192.10) scale(1.0,1.12)" font-size="12.8" text-anchor="end">3.92</text>
<text transform="translate(63.50,163.90) scale(1.0,1.12)" font-size="12.8" text-anchor="end">3.94</text>
<text transform="translate(63.50,135.00) scale(1.0,1.12)" font-size="12.8" text-anchor="end">3.96</text>
<text transform="translate(63.50,106.20) scale(1.0,1.12)" font-size="12.8" text-anchor="end">3.98</text>
<text transform="translate(63.50,77.30) scale(1.0,1.12)" font-size="12.8" text-anchor="end">4</text>
<text transform="translate(63.50,48.50) scale(1.0,1.12)" font-size="12.8" text-anchor="end">4.02</text>
<text transform="translate(63.50,19.90) scale(1.0,1.12)" font-size="12.8" text-anchor="end">4.04</text>
</g>
<text transform="translate(23.00,102.50) rotate(-90) scale(1.0,1.12)" font-size="13" text-anchor="middle" fill="#141414">V<tspan font-size="9.8" dy="5.6">Battary</tspan><tspan dy="-5.6"> (V)</tspan></text>
<rect x="534.50" y="21.80" width="472.50" height="28.10" fill="#fff" stroke="#3a3a3a" stroke-width="1.3"/>
<g fill="#141414">
<line x1="540.50" y1="35.30" x2="574.50" y2="35.30" stroke="#4646ff" stroke-width="1.4"/>
<text transform="translate(577.70,37.10) scale(1.0,1.12)" font-size="12.8">V<tspan font-size="9.8" dy="6.2">B1</tspan></text>
<line x1="607.40" y1="35.30" x2="641.40" y2="35.30" stroke="#2f9a2f" stroke-width="1.4"/>
<text transform="translate(644.60,37.10) scale(1.0,1.12)" font-size="12.8">V<tspan font-size="9.8" dy="6.2">B2</tspan></text>
<line x1="674.30" y1="35.30" x2="708.30" y2="35.30" stroke="#ff4646" stroke-width="1.4"/>
<text transform="translate(711.50,37.10) scale(1.0,1.12)" font-size="12.8">V<tspan font-size="9.8" dy="6.2">B3</tspan></text>
<line x1="741.20" y1="35.30" x2="775.20" y2="35.30" stroke="#3ccaca" stroke-width="1.4"/>
<text transform="translate(778.40,37.10) scale(1.0,1.12)" font-size="12.8">V<tspan font-size="9.8" dy="6.2">B4</tspan></text>
<line x1="808.10" y1="35.30" x2="842.10" y2="35.30" stroke="#c040c0" stroke-width="1.4"/>
<text transform="translate(845.30,37.10) scale(1.0,1.12)" font-size="12.8">V<tspan font-size="9.8" dy="6.2">C1</tspan></text>
<line x1="875.00" y1="35.30" x2="909.00" y2="35.30" stroke="#c4c430" stroke-width="1.4"/>
<text transform="translate(912.20,37.10) scale(1.0,1.12)" font-size="12.8">V<tspan font-size="9.8" dy="6.2">C2</tspan></text>
<line x1="941.90" y1="35.30" x2="975.90" y2="35.30" stroke="#555555" stroke-width="1.4"/>
<text transform="translate(979.10,37.10) scale(1.0,1.12)" font-size="12.8">V<tspan font-size="9.8" dy="6.2">C3</tspan></text>
</g>
<line x1="127.50" y1="408.20" x2="127.50" y2="219.80" stroke="#3a3a3a" stroke-width="1.5" stroke-dasharray="2 3"/>
<line x1="186.50" y1="408.20" x2="186.50" y2="219.80" stroke="#3a3a3a" stroke-width="1.5" stroke-dasharray="2 3"/>
<line x1="245.50" y1="408.20" x2="245.50" y2="219.80" stroke="#3a3a3a" stroke-width="1.5" stroke-dasharray="2 3"/>
<line x1="304.50" y1="408.20" x2="304.50" y2="219.80" stroke="#3a3a3a" stroke-width="1.5" stroke-dasharray="2 3"/>
<line x1="363.50" y1="408.20" x2="363.50" y2="219.80" stroke="#3a3a3a" stroke-width="1.5" stroke-dasharray="2 3"/>
<line x1="422.50" y1="408.20" x2="422.50" y2="219.80" stroke="#3a3a3a" stroke-width="1.5" stroke-dasharray="2 3"/>
<line x1="481.50" y1="408.20" x2="481.50" y2="219.80" stroke="#3a3a3a" stroke-width="1.5" stroke-dasharray="2 3"/>
<line x1="540.50" y1="408.20" x2="540.50" y2="219.80" stroke="#3a3a3a" stroke-width="1.5" stroke-dasharray="2 3"/>
<line x1="599.50" y1="408.20" x2="599.50" y2="219.80" stroke="#3a3a3a" stroke-width="1.5" stroke-dasharray="2 3"/>
<line x1="658.50" y1="408.20" x2="658.50" y2="219.80" stroke="#3a3a3a" stroke-width="1.5" stroke-dasharray="2 3"/>
<line x1="717.50" y1="408.20" x2="717.50" y2="219.80" stroke="#3a3a3a" stroke-width="1.5" stroke-dasharray="2 3"/>
<line x1="776.50" y1="408.20" x2="776.50" y2="219.80" stroke="#3a3a3a" stroke-width="1.5" stroke-dasharray="2 3"/>
<line x1="835.50" y1="408.20" x2="835.50" y2="219.80" stroke="#3a3a3a" stroke-width="1.5" stroke-dasharray="2 3"/>
<line x1="894.50" y1="408.20" x2="894.50" y2="219.80" stroke="#3a3a3a" stroke-width="1.5" stroke-dasharray="2 3"/>
<line x1="953.50" y1="408.20" x2="953.50" y2="219.80" stroke="#3a3a3a" stroke-width="1.5" stroke-dasharray="2 3"/>
<line x1="68.50" y1="391.50" x2="1012.50" y2="391.50" stroke="#3a3a3a" stroke-width="1.5" stroke-dasharray="2 3"/>
<line x1="68.50" y1="373.50" x2="1012.50" y2="373.50" stroke="#3a3a3a" stroke-width="1.5" stroke-dasharray="2 3"/>
<line x1="68.50" y1="356.50" x2="1012.50" y2="356.50" stroke="#3a3a3a" stroke-width="1.5" stroke-dasharray="2 3"/>
<line x1="68.50" y1="339.50" x2="1012.50" y2="339.50" stroke="#3a3a3a" stroke-width="1.5" stroke-dasharray="2 3"/>
<line x1="68.50" y1="322.50" x2="1012.50" y2="322.50" stroke="#3a3a3a" stroke-width="1.5" stroke-dasharray="2 3"/>
<line x1="68.50" y1="305.50" x2="1012.50" y2="305.50" stroke="#3a3a3a" stroke-width="1.5" stroke-dasharray="2 3"/>
<line x1="68.50" y1="288.50" x2="1012.50" y2="288.50" stroke="#3a3a3a" stroke-width="1.5" stroke-dasharray="2 3"/>
<line x1="68.50" y1="271.50" x2="1012.50" y2="271.50" stroke="#3a3a3a" stroke-width="1.5" stroke-dasharray="2 3"/>
<line x1="68.50" y1="254.50" x2="1012.50" y2="254.50" stroke="#3a3a3a" stroke-width="1.5" stroke-dasharray="2 3"/>
<line x1="68.50" y1="236.50" x2="1012.50" y2="236.50" stroke="#3a3a3a" stroke-width="1.5" stroke-dasharray="2 3"/>
<line x1="127.50" y1="408.20" x2="127.50" y2="398.20" stroke="#2a2a2a" stroke-width="1.3"/>
<line x1="127.50" y1="219.80" x2="127.50" y2="229.80" stroke="#2a2a2a" stroke-width="1.3"/>
<line x1="186.50" y1="408.20" x2="186.50" y2="398.20" stroke="#2a2a2a" stroke-width="1.3"/>
<line x1="186.50" y1="219.80" x2="186.50" y2="229.80" stroke="#2a2a2a" stroke-width="1.3"/>
<line x1="245.50" y1="408.20" x2="245.50" y2="398.20" stroke="#2a2a2a" stroke-width="1.3"/>
<line x1="245.50" y1="219.80" x2="245.50" y2="229.80" stroke="#2a2a2a" stroke-width="1.3"/>
<line x1="304.50" y1="408.20" x2="304.50" y2="398.20" stroke="#2a2a2a" stroke-width="1.3"/>
<line x1="304.50" y1="219.80" x2="304.50" y2="229.80" stroke="#2a2a2a" stroke-width="1.3"/>
<line x1="363.50" y1="408.20" x2="363.50" y2="398.20" stroke="#2a2a2a" stroke-width="1.3"/>
<line x1="363.50" y1="219.80" x2="363.50" y2="229.80" stroke="#2a2a2a" stroke-width="1.3"/>
<line x1="422.50" y1="408.20" x2="422.50" y2="398.20" stroke="#2a2a2a" stroke-width="1.3"/>
<line x1="422.50" y1="219.80" x2="422.50" y2="229.80" stroke="#2a2a2a" stroke-width="1.3"/>
<line x1="481.50" y1="408.20" x2="481.50" y2="398.20" stroke="#2a2a2a" stroke-width="1.3"/>
<line x1="481.50" y1="219.80" x2="481.50" y2="229.80" stroke="#2a2a2a" stroke-width="1.3"/>
<line x1="540.50" y1="408.20" x2="540.50" y2="398.20" stroke="#2a2a2a" stroke-width="1.3"/>
<line x1="540.50" y1="219.80" x2="540.50" y2="229.80" stroke="#2a2a2a" stroke-width="1.3"/>
<line x1="599.50" y1="408.20" x2="599.50" y2="398.20" stroke="#2a2a2a" stroke-width="1.3"/>
<line x1="599.50" y1="219.80" x2="599.50" y2="229.80" stroke="#2a2a2a" stroke-width="1.3"/>
<line x1="658.50" y1="408.20" x2="658.50" y2="398.20" stroke="#2a2a2a" stroke-width="1.3"/>
<line x1="658.50" y1="219.80" x2="658.50" y2="229.80" stroke="#2a2a2a" stroke-width="1.3"/>
<line x1="717.50" y1="408.20" x2="717.50" y2="398.20" stroke="#2a2a2a" stroke-width="1.3"/>
<line x1="717.50" y1="219.80" x2="717.50" y2="229.80" stroke="#2a2a2a" stroke-width="1.3"/>
<line x1="776.50" y1="408.20" x2="776.50" y2="398.20" stroke="#2a2a2a" stroke-width="1.3"/>
<line x1="776.50" y1="219.80" x2="776.50" y2="229.80" stroke="#2a2a2a" stroke-width="1.3"/>
<line x1="835.50" y1="408.20" x2="835.50" y2="398.20" stroke="#2a2a2a" stroke-width="1.3"/>
<line x1="835.50" y1="219.80" x2="835.50" y2="229.80" stroke="#2a2a2a" stroke-width="1.3"/>
<line x1="894.50" y1="408.20" x2="894.50" y2="398.20" stroke="#2a2a2a" stroke-width="1.3"/>
<line x1="894.50" y1="219.80" x2="894.50" y2="229.80" stroke="#2a2a2a" stroke-width="1.3"/>
<line x1="953.50" y1="408.20" x2="953.50" y2="398.20" stroke="#2a2a2a" stroke-width="1.3"/>
<line x1="953.50" y1="219.80" x2="953.50" y2="229.80" stroke="#2a2a2a" stroke-width="1.3"/>
<line x1="68.50" y1="391.50" x2="78.50" y2="391.50" stroke="#2a2a2a" stroke-width="1.3"/>
<line x1="1012.50" y1="391.50" x2="1002.50" y2="391.50" stroke="#2a2a2a" stroke-width="1.3"/>
<line x1="68.50" y1="373.50" x2="78.50" y2="373.50" stroke="#2a2a2a" stroke-width="1.3"/>
<line x1="1012.50" y1="373.50" x2="1002.50" y2="373.50" stroke="#2a2a2a" stroke-width="1.3"/>
<line x1="68.50" y1="356.50" x2="78.50" y2="356.50" stroke="#2a2a2a" stroke-width="1.3"/>
<line x1="1012.50" y1="356.50" x2="1002.50" y2="356.50" stroke="#2a2a2a" stroke-width="1.3"/>
<line x1="68.50" y1="339.50" x2="78.50" y2="339.50" stroke="#2a2a2a" stroke-width="1.3"/>
<line x1="1012.50" y1="339.50" x2="1002.50" y2="339.50" stroke="#2a2a2a" stroke-width="1.3"/>
<line x1="68.50" y1="322.50" x2="78.50" y2="322.50" stroke="#2a2a2a" stroke-width="1.3"/>
<line x1="1012.50" y1="322.50" x2="1002.50" y2="322.50" stroke="#2a2a2a" stroke-width="1.3"/>
<line x1="68.50" y1="305.50" x2="78.50" y2="305.50" stroke="#2a2a2a" stroke-width="1.3"/>
<line x1="1012.50" y1="305.50" x2="1002.50" y2="305.50" stroke="#2a2a2a" stroke-width="1.3"/>
<line x1="68.50" y1="288.50" x2="78.50" y2="288.50" stroke="#2a2a2a" stroke-width="1.3"/>
<line x1="1012.50" y1="288.50" x2="1002.50" y2="288.50" stroke="#2a2a2a" stroke-width="1.3"/>
<line x1="68.50" y1="271.50" x2="78.50" y2="271.50" stroke="#2a2a2a" stroke-width="1.3"/>
<line x1="1012.50" y1="271.50" x2="1002.50" y2="271.50" stroke="#2a2a2a" stroke-width="1.3"/>
<line x1="68.50" y1="254.50" x2="78.50" y2="254.50" stroke="#2a2a2a" stroke-width="1.3"/>
<line x1="1012.50" y1="254.50" x2="1002.50" y2="254.50" stroke="#2a2a2a" stroke-width="1.3"/>
<line x1="68.50" y1="236.50" x2="78.50" y2="236.50" stroke="#2a2a2a" stroke-width="1.3"/>
<line x1="1012.50" y1="236.50" x2="1002.50" y2="236.50" stroke="#2a2a2a" stroke-width="1.3"/>
<rect x="68.50" y="219.80" width="944.00" height="188.40" fill="none" stroke="#3a3a3a" stroke-width="1.5"/>
<path d="M68.50,220.15 L74.44,220.61 L80.37,221.07 L86.31,221.54 L92.25,221.99 L98.19,222.45 L104.12,222.91 L110.06,223.36 L116.00,223.81 L121.93,224.26 L127.87,224.71 L133.81,225.16 L139.75,225.60 L145.68,226.04 L151.62,226.49 L157.56,226.93 L163.49,227.36 L169.43,227.80 L175.37,228.23 L181.31,228.67 L187.24,229.10 L193.18,229.53 L199.12,229.95 L205.05,230.38 L210.99,230.80 L216.93,231.22 L222.86,231.64 L228.80,232.06 L234.74,232.48 L240.68,232.90 L246.61,233.31 L252.55,233.72 L258.49,234.13 L264.42,234.54 L270.36,234.95 L276.30,235.35 L282.24,235.75 L288.17,236.15 L294.11,236.55 L300.05,236.95 L305.98,237.35 L311.92,237.74 L317.86,238.14 L323.80,238.53 L329.73,238.92 L335.67,239.31 L341.61,239.69 L347.54,240.08 L353.48,240.46 L359.42,240.84 L365.36,241.22 L371.29,241.60 L377.23,241.98 L383.17,242.35 L389.10,242.72 L395.04,243.09 L400.98,243.46 L406.92,243.83 L412.85,244.20 L418.79,244.56 L424.73,244.93 L430.66,245.29 L436.60,245.65 L442.54,246.01 L448.47,246.36 L454.41,246.72 L460.35,247.07 L466.29,247.42 L472.22,247.77 L478.16,248.12 L484.10,248.47 L490.03,248.81 L495.97,249.16 L501.91,249.50 L507.85,249.84 L513.78,250.18 L519.72,250.52 L525.66,250.85 L531.59,251.19 L537.53,251.52 L543.47,251.85 L549.41,252.18 L555.34,252.51 L561.28,252.84 L567.22,253.16 L573.15,253.48 L579.09,253.80 L585.03,254.12 L590.97,254.44 L596.90,254.76 L602.84,255.08 L608.78,255.39 L614.71,255.70 L620.65,256.01 L626.59,256.32 L632.53,256.63 L638.46,256.94 L644.40,257.24 L650.34,257.54 L656.27,257.84 L662.21,258.14 L668.15,258.44 L674.08,258.74 L680.02,259.04 L685.96,259.33 L691.90,259.62 L697.83,259.91 L703.77,260.20 L709.71,260.49 L715.64,260.78 L721.58,261.06 L727.52,261.34 L733.46,261.63 L739.39,261.91 L745.33,262.19 L751.27,262.46 L757.20,262.74 L763.14,263.01 L769.08,263.29 L775.02,263.56 L780.95,263.83 L786.89,264.10 L792.83,264.36 L798.76,264.63 L804.70,264.89 L810.64,265.16 L816.58,265.42 L822.51,265.68 L828.45,265.94 L834.39,266.19 L840.32,266.45 L846.26,266.70 L852.20,266.96 L858.14,267.21 L864.07,267.46 L870.01,267.70 L875.95,267.95 L881.88,268.20 L887.82,268.44 L893.76,268.68 L899.69,268.92 L905.63,269.16 L911.57,269.40 L917.51,269.64 L923.44,269.88 L929.38,270.11 L935.32,270.34 L941.25,270.57 L947.19,270.80 L953.13,271.03 L959.07,271.26 L965.00,271.49 L970.94,271.71 L976.88,271.93 L982.81,272.15 L988.75,272.37 L994.69,272.59 L1000.63,272.81 L1006.56,273.03 L1012.50,273.24" fill="none" stroke="#4646ff" stroke-width="1.4"/>
<path d="M68.50,254.09 L74.44,254.59 L80.37,255.08 L86.31,255.57 L92.25,256.05 L98.19,256.53 L104.12,257.00 L110.06,257.47 L116.00,257.94 L121.93,258.40 L127.87,258.85 L133.81,259.31 L139.75,259.75 L145.68,260.20 L151.62,260.63 L157.56,261.07 L163.49,261.50 L169.43,261.92 L175.37,262.34 L181.31,262.76 L187.24,263.17 L193.18,263.58 L199.12,263.99 L205.05,264.39 L210.99,264.79 L216.93,265.18 L222.86,265.57 L228.80,265.95 L234.74,266.33 L240.68,266.71 L246.61,267.08 L252.55,267.45 L258.49,267.82 L264.42,268.18 L270.36,268.54 L276.30,268.89 L282.24,269.25 L288.17,269.59 L294.11,269.94 L300.05,270.28 L305.98,270.61 L311.92,270.95 L317.86,271.28 L323.80,271.61 L329.73,271.93 L335.67,272.25 L341.61,272.57 L347.54,272.88 L353.48,273.19 L359.42,273.50 L365.36,273.80 L371.29,274.10 L377.23,274.40 L383.17,274.69 L389.10,274.98 L395.04,275.27 L400.98,275.56 L406.92,275.84 L412.85,276.12 L418.79,276.40 L424.73,276.67 L430.66,276.94 L436.60,277.21 L442.54,277.48 L448.47,277.74 L454.41,278.00 L460.35,278.26 L466.29,278.51 L472.22,278.76 L478.16,279.01 L484.10,279.26 L490.03,279.51 L495.97,279.75 L501.91,279.99 L507.85,280.23 L513.78,280.46 L519.72,280.69 L525.66,280.93 L531.59,281.15 L537.53,281.38 L543.47,281.60 L549.41,281.83 L555.34,282.05 L561.28,282.26 L567.22,282.48 L573.15,282.69 L579.09,282.90 L585.03,283.11 L590.97,283.32 L596.90,283.53 L602.84,283.73 L608.78,283.93 L614.71,284.13 L620.65,284.33 L626.59,284.53 L632.53,284.73 L638.46,284.92 L644.40,285.11 L650.34,285.30 L656.27,285.49 L662.21,285.68 L668.15,285.86 L674.08,286.05 L680.02,286.23 L685.96,286.41 L691.90,286.59 L697.83,286.77 L703.77,286.95 L709.71,287.12 L715.64,287.30 L721.58,287.47 L727.52,287.65 L733.46,287.82 L739.39,287.99 L745.33,288.16 L751.27,288.32 L757.20,288.49 L763.14,288.66 L769.08,288.82 L775.02,288.99 L780.95,289.15 L786.89,289.31 L792.83,289.48 L798.76,289.64 L804.70,289.80 L810.64,289.96 L816.58,290.12 L822.51,290.27 L828.45,290.43 L834.39,290.59 L840.32,290.75 L846.26,290.90 L852.20,291.06 L858.14,291.21 L864.07,291.37 L870.01,291.52 L875.95,291.67 L881.88,291.83 L887.82,291.98 L893.76,292.14 L899.69,292.29 L905.63,292.44 L911.57,292.59 L917.51,292.75 L923.44,292.90 L929.38,293.05 L935.32,293.20 L941.25,293.35 L947.19,293.51 L953.13,293.66 L959.07,293.81 L965.00,293.96 L970.94,294.12 L976.88,294.27 L982.81,294.42 L988.75,294.58 L994.69,294.73 L1000.63,294.88 L1006.56,295.04 L1012.50,295.19" fill="none" stroke="#2f9a2f" stroke-width="1.4"/>
<path d="M68.50,373.97 L74.44,373.44 L80.37,372.91 L86.31,372.39 L92.25,371.87 L98.19,371.36 L104.12,370.85 L110.06,370.35 L116.00,369.86 L121.93,369.37 L127.87,368.88 L133.81,368.40 L139.75,367.93 L145.68,367.46 L151.62,366.99 L157.56,366.53 L163.49,366.07 L169.43,365.62 L175.37,365.17 L181.31,364.73 L187.24,364.30 L193.18,363.86 L199.12,363.43 L205.05,363.01 L210.99,362.59 L216.93,362.18 L222.86,361.77 L228.80,361.36 L234.74,360.96 L240.68,360.56 L246.61,360.17 L252.55,359.78 L258.49,359.40 L264.42,359.02 L270.36,358.64 L276.30,358.27 L282.24,357.90 L288.17,357.54 L294.11,357.18 L300.05,356.82 L305.98,356.47 L311.92,356.12 L317.86,355.78 L323.80,355.44 L329.73,355.10 L335.67,354.77 L341.61,354.44 L347.54,354.12 L353.48,353.79 L359.42,353.48 L365.36,353.16 L371.29,352.85 L377.23,352.54 L383.17,352.24 L389.10,351.94 L395.04,351.64 L400.98,351.35 L406.92,351.05 L412.85,350.77 L418.79,350.48 L424.73,350.20 L430.66,349.92 L436.60,349.65 L442.54,349.38 L448.47,349.11 L454.41,348.84 L460.35,348.58 L466.29,348.32 L472.22,348.06 L478.16,347.81 L484.10,347.56 L490.03,347.31 L495.97,347.06 L501.91,346.82 L507.85,346.58 L513.78,346.34 L519.72,346.11 L525.66,345.87 L531.59,345.64 L537.53,345.42 L543.47,345.19 L549.41,344.97 L555.34,344.75 L561.28,344.53 L567.22,344.31 L573.15,344.10 L579.09,343.89 L585.03,343.68 L590.97,343.47 L596.90,343.27 L602.84,343.07 L608.78,342.87 L614.71,342.67 L620.65,342.47 L626.59,342.28 L632.53,342.08 L638.46,341.89 L644.40,341.70 L650.34,341.52 L656.27,341.33 L662.21,341.15 L668.15,340.96 L674.08,340.78 L680.02,340.60 L685.96,340.43 L691.90,340.25 L697.83,340.08 L703.77,339.90 L709.71,339.73 L715.64,339.56 L721.58,339.39 L727.52,339.23 L733.46,339.06 L739.39,338.90 L745.33,338.73 L751.27,338.57 L757.20,338.41 L763.14,338.25 L769.08,338.09 L775.02,337.93 L780.95,337.77 L786.89,337.62 L792.83,337.46 L798.76,337.31 L804.70,337.15 L810.64,337.00 L816.58,336.85 L822.51,336.70 L828.45,336.54 L834.39,336.39 L840.32,336.24 L846.26,336.10 L852.20,335.95 L858.14,335.80 L864.07,335.65 L870.01,335.50 L875.95,335.36 L881.88,335.21 L887.82,335.07 L893.76,334.92 L899.69,334.77 L905.63,334.63 L911.57,334.48 L917.51,334.34 L923.44,334.19 L929.38,334.05 L935.32,333.90 L941.25,333.76 L947.19,333.61 L953.13,333.47 L959.07,333.32 L965.00,333.18 L970.94,333.03 L976.88,332.89 L982.81,332.74 L988.75,332.59 L994.69,332.45 L1000.63,332.30 L1006.56,332.15 L1012.50,332.01" fill="none" stroke="#ff4646" stroke-width="1.4"/>
<path d="M68.50,407.90 L74.44,407.43 L80.37,406.96 L86.31,406.50 L92.25,406.03 L98.19,405.57 L104.12,405.12 L110.06,404.66 L116.00,404.21 L121.93,403.76 L127.87,403.31 L133.81,402.86 L139.75,402.42 L145.68,401.97 L151.62,401.53 L157.56,401.09 L163.49,400.66 L169.43,400.23 L175.37,399.79 L181.31,399.36 L187.24,398.94 L193.18,398.51 L199.12,398.09 L205.05,397.67 L210.99,397.25 L216.93,396.83 L222.86,396.42 L228.80,396.00 L234.74,395.59 L240.68,395.19 L246.61,394.78 L252.55,394.37 L258.49,393.97 L264.42,393.57 L270.36,393.17 L276.30,392.77 L282.24,392.38 L288.17,391.99 L294.11,391.60 L300.05,391.21 L305.98,390.82 L311.92,390.43 L317.86,390.05 L323.80,389.67 L329.73,389.29 L335.67,388.91 L341.61,388.54 L347.54,388.16 L353.48,387.79 L359.42,387.42 L365.36,387.05 L371.29,386.68 L377.23,386.32 L383.17,385.95 L389.10,385.59 L395.04,385.23 L400.98,384.87 L406.92,384.52 L412.85,384.16 L418.79,383.81 L424.73,383.46 L430.66,383.11 L436.60,382.76 L442.54,382.41 L448.47,382.07 L454.41,381.72 L460.35,381.38 L466.29,381.04 L472.22,380.70 L478.16,380.37 L484.10,380.03 L490.03,379.70 L495.97,379.36 L501.91,379.03 L507.85,378.70 L513.78,378.38 L519.72,378.05 L525.66,377.73 L531.59,377.40 L537.53,377.08 L543.47,376.76 L549.41,376.44 L555.34,376.12 L561.28,375.81 L567.22,375.49 L573.15,375.18 L579.09,374.87 L585.03,374.56 L590.97,374.25 L596.90,373.94 L602.84,373.64 L608.78,373.33 L614.71,373.03 L620.65,372.73 L626.59,372.42 L632.53,372.12 L638.46,371.83 L644.40,371.53 L650.34,371.23 L656.27,370.94 L662.21,370.65 L668.15,370.35 L674.08,370.06 L680.02,369.77 L685.96,369.48 L691.90,369.20 L697.83,368.91 L703.77,368.63 L709.71,368.34 L715.64,368.06 L721.58,367.78 L727.52,367.50 L733.46,367.22 L739.39,366.94 L745.33,366.66 L751.27,366.39 L757.20,366.11 L763.14,365.84 L769.08,365.56 L775.02,365.29 L780.95,365.02 L786.89,364.75 L792.83,364.48 L798.76,364.22 L804.70,363.95 L810.64,363.68 L816.58,363.42 L822.51,363.15 L828.45,362.89 L834.39,362.63 L840.32,362.37 L846.26,362.11 L852.20,361.85 L858.14,361.59 L864.07,361.33 L870.01,361.08 L875.95,360.82 L881.88,360.57 L887.82,360.31 L893.76,360.06 L899.69,359.80 L905.63,359.55 L911.57,359.30 L917.51,359.05 L923.44,358.80 L929.38,358.55 L935.32,358.31 L941.25,358.06 L947.19,357.81 L953.13,357.57 L959.07,357.32 L965.00,357.08 L970.94,356.83 L976.88,356.59 L982.81,356.35 L988.75,356.11 L994.69,355.86 L1000.63,355.62 L1006.56,355.38 L1012.50,355.14" fill="none" stroke="#3ccaca" stroke-width="1.4"/>
<g fill="#141414">
<text transform="translate(68.50,423.60) scale(1.0,1.12)" font-size="12.8" text-anchor="middle">0</text>
<text transform="translate(127.50,423.60) scale(1.0,1.12)" font-size="12.8" text-anchor="middle">0.25</text>
<text transform="translate(186.50,423.60) scale(1.0,1.12)" font-size="12.8" text-anchor="middle">0.5</text>
<text transform="translate(245.50,423.60) scale(1.0,1.12)" font-size="12.8" text-anchor="middle">0.75</text>
<text transform="translate(304.50,423.60) scale(1.0,1.12)" font-size="12.8" text-anchor="middle">1</text>
<text transform="translate(363.50,423.60) scale(1.0,1.12)" font-size="12.8" text-anchor="middle">1.25</text>
<text transform="translate(422.50,423.60) scale(1.0,1.12)" font-size="12.8" text-anchor="middle">1.5</text>
<text transform="translate(481.50,423.60) scale(1.0,1.12)" font-size="12.8" text-anchor="middle">1.75</text>
<text transform="translate(540.50,423.60) scale(1.0,1.12)" font-size="12.8" text-anchor="middle">2</text>
<text transform="translate(599.50,423.60) scale(1.0,1.12)" font-size="12.8" text-anchor="middle">2.25</text>
<text transform="translate(658.50,423.60) scale(1.0,1.12)" font-size="12.8" text-anchor="middle">2.5</text>
<text transform="translate(717.50,423.60) scale(1.0,1.12)" font-size="12.8" text-anchor="middle">2.75</text>
<text transform="translate(776.50,423.60) scale(1.0,1.12)" font-size="12.8" text-anchor="middle">3</text>
<text transform="translate(835.50,423.60) scale(1.0,1.12)" font-size="12.8" text-anchor="middle">3.25</text>
<text transform="translate(894.50,423.60) scale(1.0,1.12)" font-size="12.8" text-anchor="middle">3.5</text>
<text transform="translate(953.50,423.60) scale(1.0,1.12)" font-size="12.8" text-anchor="middle">3.75</text>
<text transform="translate(1012.50,423.60) scale(1.0,1.12)" font-size="12.8" text-anchor="middle">4</text>
<text transform="translate(64.80,413.10) scale(1.0,1.12)" font-size="12.8" text-anchor="end">76</text>
<text transform="translate(64.80,395.97) scale(1.0,1.12)" font-size="12.8" text-anchor="end">77</text>
<text transform="translate(64.80,378.85) scale(1.0,1.12)" font-size="12.8" text-anchor="end">78</text>
<text transform="translate(64.80,361.72) scale(1.0,1.12)" font-size="12.8" text-anchor="end">79</text>
<text transform="translate(64.80,344.59) scale(1.0,1.12)" font-size="12.8" text-anchor="end">80</text>
<text transform="translate(64.80,327.46) scale(1.0,1.12)" font-size="12.8" text-anchor="end">81</text>
<text transform="translate(64.80,310.34) scale(1.0,1.12)" font-size="12.8" text-anchor="end">82</text>
<text transform="translate(64.80,293.21) scale(1.0,1.12)" font-size="12.8" text-anchor="end">83</text>
<text transform="translate(64.80,276.08) scale(1.0,1.12)" font-size="12.8" text-anchor="end">84</text>
<text transform="translate(64.80,258.95) scale(1.0,1.12)" font-size="12.8" text-anchor="end">85</text>
<text transform="translate(64.80,241.83) scale(1.0,1.12)" font-size="12.8" text-anchor="end">86</text>
<text transform="translate(64.80,224.70) scale(1.0,1.12)" font-size="12.8" text-anchor="end">87</text>
</g>
<text transform="translate(29.90,314.80) rotate(-90) scale(1.0,1.12)" font-size="13" text-anchor="middle" fill="#141414">SoC (%)</text>
<rect x="666.20" y="226.70" width="342.20" height="27.60" fill="#fff" stroke="#3a3a3a" stroke-width="1.3"/>
<g fill="#141414">
<line x1="672.70" y1="239.90" x2="706.10" y2="239.90" stroke="#4646ff" stroke-width="1.4"/>
<text transform="translate(709.70,241.70) scale(1.0,1.12)" font-size="12.8">SoC<tspan font-size="9.8" dy="6.2">B1</tspan></text>
<line x1="757.10" y1="239.90" x2="790.50" y2="239.90" stroke="#2f9a2f" stroke-width="1.4"/>
<text transform="translate(794.10,241.70) scale(1.0,1.12)" font-size="12.8">SoC<tspan font-size="9.8" dy="6.2">B2</tspan></text>
<line x1="841.50" y1="239.90" x2="874.90" y2="239.90" stroke="#ff4646" stroke-width="1.4"/>
<text transform="translate(878.50,241.70) scale(1.0,1.12)" font-size="12.8">SoC<tspan font-size="9.8" dy="6.2">B3</tspan></text>
<line x1="925.90" y1="239.90" x2="959.30" y2="239.90" stroke="#3ccaca" stroke-width="1.4"/>
<text transform="translate(962.90,241.70) scale(1.0,1.12)" font-size="12.8">SoC<tspan font-size="9.8" dy="6.2">B4</tspan></text>
</g>
<line x1="127.50" y1="608.10" x2="127.50" y2="435.50" stroke="#3a3a3a" stroke-width="1.5" stroke-dasharray="2 3"/>
<line x1="186.50" y1="608.10" x2="186.50" y2="435.50" stroke="#3a3a3a" stroke-width="1.5" stroke-dasharray="2 3"/>
<line x1="245.50" y1="608.10" x2="245.50" y2="435.50" stroke="#3a3a3a" stroke-width="1.5" stroke-dasharray="2 3"/>
<line x1="304.50" y1="608.10" x2="304.50" y2="435.50" stroke="#3a3a3a" stroke-width="1.5" stroke-dasharray="2 3"/>
<line x1="363.50" y1="608.10" x2="363.50" y2="435.50" stroke="#3a3a3a" stroke-width="1.5" stroke-dasharray="2 3"/>
<line x1="422.50" y1="608.10" x2="422.50" y2="435.50" stroke="#3a3a3a" stroke-width="1.5" stroke-dasharray="2 3"/>
<line x1="481.50" y1="608.10" x2="481.50" y2="435.50" stroke="#3a3a3a" stroke-width="1.5" stroke-dasharray="2 3"/>
<line x1="540.50" y1="608.10" x2="540.50" y2="435.50" stroke="#3a3a3a" stroke-width="1.5" stroke-dasharray="2 3"/>
<line x1="599.50" y1="608.10" x2="599.50" y2="435.50" stroke="#3a3a3a" stroke-width="1.5" stroke-dasharray="2 3"/>
<line x1="658.50" y1="608.10" x2="658.50" y2="435.50" stroke="#3a3a3a" stroke-width="1.5" stroke-dasharray="2 3"/>
<line x1="717.50" y1="608.10" x2="717.50" y2="435.50" stroke="#3a3a3a" stroke-width="1.5" stroke-dasharray="2 3"/>
<line x1="776.50" y1="608.10" x2="776.50" y2="435.50" stroke="#3a3a3a" stroke-width="1.5" stroke-dasharray="2 3"/>
<line x1="835.50" y1="608.10" x2="835.50" y2="435.50" stroke="#3a3a3a" stroke-width="1.5" stroke-dasharray="2 3"/>
<line x1="894.50" y1="608.10" x2="894.50" y2="435.50" stroke="#3a3a3a" stroke-width="1.5" stroke-dasharray="2 3"/>
<line x1="953.50" y1="608.10" x2="953.50" y2="435.50" stroke="#3a3a3a" stroke-width="1.5" stroke-dasharray="2 3"/>
<line x1="68.30" y1="579.50" x2="1012.80" y2="579.50" stroke="#3a3a3a" stroke-width="1.5" stroke-dasharray="2 3"/>
<line x1="68.30" y1="550.50" x2="1012.80" y2="550.50" stroke="#3a3a3a" stroke-width="1.5" stroke-dasharray="2 3"/>
<line x1="68.30" y1="521.50" x2="1012.80" y2="521.50" stroke="#3a3a3a" stroke-width="1.5" stroke-dasharray="2 3"/>
<line x1="68.30" y1="493.50" x2="1012.80" y2="493.50" stroke="#3a3a3a" stroke-width="1.5" stroke-dasharray="2 3"/>
<line x1="68.30" y1="464.50" x2="1012.80" y2="464.50" stroke="#3a3a3a" stroke-width="1.5" stroke-dasharray="2 3"/>
<line x1="127.50" y1="608.10" x2="127.50" y2="598.10" stroke="#2a2a2a" stroke-width="1.3"/>
<line x1="127.50" y1="435.50" x2="127.50" y2="445.50" stroke="#2a2a2a" stroke-width="1.3"/>
<line x1="186.50" y1="608.10" x2="186.50" y2="598.10" stroke="#2a2a2a" stroke-width="1.3"/>
<line x1="186.50" y1="435.50" x2="186.50" y2="445.50" stroke="#2a2a2a" stroke-width="1.3"/>
<line x1="245.50" y1="608.10" x2="245.50" y2="598.10" stroke="#2a2a2a" stroke-width="1.3"/>
<line x1="245.50" y1="435.50" x2="245.50" y2="445.50" stroke="#2a2a2a" stroke-width="1.3"/>
<line x1="304.50" y1="608.10" x2="304.50" y2="598.10" stroke="#2a2a2a" stroke-width="1.3"/>
<line x1="304.50" y1="435.50" x2="304.50" y2="445.50" stroke="#2a2a2a" stroke-width="1.3"/>
<line x1="363.50" y1="608.10" x2="363.50" y2="598.10" stroke="#2a2a2a" stroke-width="1.3"/>
<line x1="363.50" y1="435.50" x2="363.50" y2="445.50" stroke="#2a2a2a" stroke-width="1.3"/>
<line x1="422.50" y1="608.10" x2="422.50" y2="598.10" stroke="#2a2a2a" stroke-width="1.3"/>
<line x1="422.50" y1="435.50" x2="422.50" y2="445.50" stroke="#2a2a2a" stroke-width="1.3"/>
<line x1="481.50" y1="608.10" x2="481.50" y2="598.10" stroke="#2a2a2a" stroke-width="1.3"/>
<line x1="481.50" y1="435.50" x2="481.50" y2="445.50" stroke="#2a2a2a" stroke-width="1.3"/>
<line x1="540.50" y1="608.10" x2="540.50" y2="598.10" stroke="#2a2a2a" stroke-width="1.3"/>
<line x1="540.50" y1="435.50" x2="540.50" y2="445.50" stroke="#2a2a2a" stroke-width="1.3"/>
<line x1="599.50" y1="608.10" x2="599.50" y2="598.10" stroke="#2a2a2a" stroke-width="1.3"/>
<line x1="599.50" y1="435.50" x2="599.50" y2="445.50" stroke="#2a2a2a" stroke-width="1.3"/>
<line x1="658.50" y1="608.10" x2="658.50" y2="598.10" stroke="#2a2a2a" stroke-width="1.3"/>
<line x1="658.50" y1="435.50" x2="658.50" y2="445.50" stroke="#2a2a2a" stroke-width="1.3"/>
<line x1="717.50" y1="608.10" x2="717.50" y2="598.10" stroke="#2a2a2a" stroke-width="1.3"/>
<line x1="717.50" y1="435.50" x2="717.50" y2="445.50" stroke="#2a2a2a" stroke-width="1.3"/>
<line x1="776.50" y1="608.10" x2="776.50" y2="598.10" stroke="#2a2a2a" stroke-width="1.3"/>
<line x1="776.50" y1="435.50" x2="776.50" y2="445.50" stroke="#2a2a2a" stroke-width="1.3"/>
<line x1="835.50" y1="608.10" x2="835.50" y2="598.10" stroke="#2a2a2a" stroke-width="1.3"/>
<line x1="835.50" y1="435.50" x2="835.50" y2="445.50" stroke="#2a2a2a" stroke-width="1.3"/>
<line x1="894.50" y1="608.10" x2="894.50" y2="598.10" stroke="#2a2a2a" stroke-width="1.3"/>
<line x1="894.50" y1="435.50" x2="894.50" y2="445.50" stroke="#2a2a2a" stroke-width="1.3"/>
<line x1="953.50" y1="608.10" x2="953.50" y2="598.10" stroke="#2a2a2a" stroke-width="1.3"/>
<line x1="953.50" y1="435.50" x2="953.50" y2="445.50" stroke="#2a2a2a" stroke-width="1.3"/>
<line x1="68.30" y1="579.50" x2="78.30" y2="579.50" stroke="#2a2a2a" stroke-width="1.3"/>
<line x1="1012.80" y1="579.50" x2="1002.80" y2="579.50" stroke="#2a2a2a" stroke-width="1.3"/>
<line x1="68.30" y1="550.50" x2="78.30" y2="550.50" stroke="#2a2a2a" stroke-width="1.3"/>
<line x1="1012.80" y1="550.50" x2="1002.80" y2="550.50" stroke="#2a2a2a" stroke-width="1.3"/>
<line x1="68.30" y1="521.50" x2="78.30" y2="521.50" stroke="#2a2a2a" stroke-width="1.3"/>
<line x1="1012.80" y1="521.50" x2="1002.80" y2="521.50" stroke="#2a2a2a" stroke-width="1.3"/>
<line x1="68.30" y1="493.50" x2="78.30" y2="493.50" stroke="#2a2a2a" stroke-width="1.3"/>
<line x1="1012.80" y1="493.50" x2="1002.80" y2="493.50" stroke="#2a2a2a" stroke-width="1.3"/>
<line x1="68.30" y1="464.50" x2="78.30" y2="464.50" stroke="#2a2a2a" stroke-width="1.3"/>
<line x1="1012.80" y1="464.50" x2="1002.80" y2="464.50" stroke="#2a2a2a" stroke-width="1.3"/>
<rect x="68.30" y="435.50" width="944.50" height="172.60" fill="none" stroke="#3a3a3a" stroke-width="1.5"/>
<path d="M68.30,454.25 L74.24,454.68 L80.18,455.11 L86.12,455.54 L92.06,455.97 L98.00,456.39 L103.94,456.81 L109.88,457.23 L115.82,457.65 L121.76,458.06 L127.70,458.47 L133.64,458.88 L139.58,459.29 L145.52,459.69 L151.46,460.09 L157.40,460.49 L163.34,460.88 L169.28,461.28 L175.22,461.67 L181.16,462.06 L187.11,462.44 L193.05,462.83 L198.99,463.21 L204.93,463.59 L210.87,463.96 L216.81,464.34 L222.75,464.71 L228.69,465.08 L234.63,465.44 L240.57,465.81 L246.51,466.17 L252.45,466.53 L258.39,466.89 L264.33,467.24 L270.27,467.59 L276.21,467.94 L282.15,468.29 L288.09,468.64 L294.03,468.98 L299.97,469.32 L305.91,469.66 L311.85,469.99 L317.79,470.33 L323.73,470.66 L329.67,470.99 L335.61,471.32 L341.55,471.64 L347.49,471.96 L353.43,472.28 L359.37,472.60 L365.31,472.92 L371.25,473.23 L377.19,473.54 L383.13,473.85 L389.07,474.16 L395.01,474.47 L400.95,474.77 L406.89,475.07 L412.83,475.37 L418.77,475.66 L424.72,475.96 L430.66,476.25 L436.60,476.54 L442.54,476.83 L448.48,477.12 L454.42,477.40 L460.36,477.68 L466.30,477.96 L472.24,478.24 L478.18,478.52 L484.12,478.79 L490.06,479.06 L496.00,479.33 L501.94,479.60 L507.88,479.86 L513.82,480.13 L519.76,480.39 L525.70,480.65 L531.64,480.91 L537.58,481.16 L543.52,481.42 L549.46,481.67 L555.40,481.92 L561.34,482.17 L567.28,482.41 L573.22,482.66 L579.16,482.90 L585.10,483.14 L591.04,483.38 L596.98,483.62 L602.92,483.85 L608.86,484.08 L614.80,484.31 L620.74,484.54 L626.68,484.77 L632.62,485.00 L638.56,485.22 L644.50,485.44 L650.44,485.66 L656.38,485.88 L662.33,486.10 L668.27,486.31 L674.21,486.53 L680.15,486.74 L686.09,486.95 L692.03,487.16 L697.97,487.36 L703.91,487.57 L709.85,487.77 L715.79,487.97 L721.73,488.17 L727.67,488.37 L733.61,488.56 L739.55,488.76 L745.49,488.95 L751.43,489.14 L757.37,489.33 L763.31,489.52 L769.25,489.71 L775.19,489.89 L781.13,490.07 L787.07,490.26 L793.01,490.43 L798.95,490.61 L804.89,490.79 L810.83,490.96 L816.77,491.14 L822.71,491.31 L828.65,491.48 L834.59,491.65 L840.53,491.82 L846.47,491.98 L852.41,492.15 L858.35,492.31 L864.29,492.47 L870.23,492.63 L876.17,492.79 L882.11,492.95 L888.05,493.10 L893.99,493.26 L899.94,493.41 L905.88,493.56 L911.82,493.71 L917.76,493.86 L923.70,494.01 L929.64,494.15 L935.58,494.30 L941.52,494.44 L947.46,494.58 L953.40,494.72 L959.34,494.86 L965.28,495.00 L971.22,495.13 L977.16,495.27 L983.10,495.40 L989.04,495.53 L994.98,495.66 L1000.92,495.79 L1006.86,495.92 L1012.80,496.05 L1012.80,520.90 L1006.86,520.90 L1000.92,520.90 L994.98,520.90 L989.04,520.90 L983.10,520.90 L977.16,520.90 L971.22,520.90 L965.28,520.90 L959.34,520.90 L953.40,520.90 L947.46,520.90 L941.52,520.90 L935.58,520.90 L929.64,520.90 L923.70,520.90 L917.76,520.90 L911.82,520.90 L905.88,520.90 L899.94,520.90 L893.99,520.90 L888.05,520.90 L882.11,520.90 L876.17,520.90 L870.23,520.90 L864.29,520.90 L858.35,520.90 L852.41,520.90 L846.47,520.90 L840.53,520.90 L834.59,520.90 L828.65,520.90 L822.71,520.90 L816.77,520.90 L810.83,520.90 L804.89,520.90 L798.95,520.90 L793.01,520.90 L787.07,520.90 L781.13,520.90 L775.19,520.90 L769.25,520.90 L763.31,520.90 L757.37,520.90 L751.43,520.90 L745.49,520.90 L739.55,520.90 L733.61,520.90 L727.67,520.90 L721.73,520.90 L715.79,520.90 L709.85,520.90 L703.91,520.90 L697.97,520.90 L692.03,520.90 L686.09,520.90 L680.15,520.90 L674.21,520.90 L668.27,520.90 L662.33,520.90 L656.38,520.90 L650.44,520.90 L644.50,520.90 L638.56,520.90 L632.62,520.90 L626.68,520.90 L620.74,520.90 L614.80,520.90 L608.86,520.90 L602.92,520.90 L596.98,520.90 L591.04,520.90 L585.10,520.90 L579.16,520.90 L573.22,520.90 L567.28,520.90 L561.34,520.90 L555.40,520.90 L549.46,520.90 L543.52,520.90 L537.58,520.90 L531.64,520.90 L525.70,520.90 L519.76,520.90 L513.82,520.90 L507.88,520.90 L501.94,520.90 L496.00,520.90 L490.06,520.90 L484.12,520.90 L478.18,520.90 L472.24,520.90 L466.30,520.90 L460.36,520.90 L454.42,520.90 L448.48,520.90 L442.54,520.90 L436.60,520.90 L430.66,520.90 L424.72,520.90 L418.77,520.90 L412.83,520.90 L406.89,520.90 L400.95,520.90 L395.01,520.90 L389.07,520.90 L383.13,520.90 L377.19,520.90 L371.25,520.90 L365.31,520.90 L359.37,520.90 L353.43,520.90 L347.49,520.90 L341.55,520.90 L335.61,520.90 L329.67,520.90 L323.73,520.90 L317.79,520.90 L311.85,520.90 L305.91,520.90 L299.97,520.90 L294.03,520.90 L288.09,520.90 L282.15,520.90 L276.21,520.90 L270.27,520.90 L264.33,520.90 L258.39,520.90 L252.45,520.90 L246.51,520.90 L240.57,520.90 L234.63,520.90 L228.69,520.90 L222.75,520.90 L216.81,520.90 L210.87,520.90 L204.93,520.90 L198.99,520.90 L193.05,520.90 L187.11,520.90 L181.16,520.90 L175.22,520.90 L169.28,520.90 L163.34,520.90 L157.40,520.90 L151.46,520.90 L145.52,520.90 L139.58,520.90 L133.64,520.90 L127.70,520.90 L121.76,520.90 L115.82,520.90 L109.88,520.90 L103.94,520.90 L98.00,520.90 L92.06,520.90 L86.12,520.90 L80.18,520.90 L74.24,520.90 L68.30,520.90Z" fill="#008000"/>
<path d="M68.30,485.00 L74.24,485.18 L80.18,485.36 L86.12,485.53 L92.06,485.71 L98.00,485.88 L103.94,486.05 L109.88,486.22 L115.82,486.39 L121.76,486.56 L127.70,486.73 L133.64,486.89 L139.58,487.06 L145.52,487.22 L151.46,487.38 L157.40,487.55 L163.34,487.71 L169.28,487.86 L175.22,488.02 L181.16,488.18 L187.11,488.34 L193.05,488.49 L198.99,488.65 L204.93,488.80 L210.87,488.95 L216.81,489.10 L222.75,489.25 L228.69,489.40 L234.63,489.55 L240.57,489.70 L246.51,489.84 L252.45,489.99 L258.39,490.13 L264.33,490.28 L270.27,490.42 L276.21,490.56 L282.15,490.70 L288.09,490.84 L294.03,490.98 L299.97,491.12 L305.91,491.26 L311.85,491.39 L317.79,491.53 L323.73,491.67 L329.67,491.80 L335.61,491.93 L341.55,492.07 L347.49,492.20 L353.43,492.33 L359.37,492.46 L365.31,492.59 L371.25,492.72 L377.19,492.85 L383.13,492.97 L389.07,493.10 L395.01,493.23 L400.95,493.35 L406.89,493.48 L412.83,493.60 L418.77,493.72 L424.72,493.85 L430.66,493.97 L436.60,494.09 L442.54,494.21 L448.48,494.33 L454.42,494.45 L460.36,494.57 L466.30,494.69 L472.24,494.80 L478.18,494.92 L484.12,495.04 L490.06,495.15 L496.00,495.27 L501.94,495.38 L507.88,495.50 L513.82,495.61 L519.76,495.73 L525.70,495.84 L531.64,495.95 L537.58,496.06 L543.52,496.18 L549.46,496.29 L555.40,496.40 L561.34,496.51 L567.28,496.62 L573.22,496.73 L579.16,496.84 L585.10,496.95 L591.04,497.06 L596.98,497.16 L602.92,497.27 L608.86,497.38 L614.80,497.49 L620.74,497.59 L626.68,497.70 L632.62,497.80 L638.56,497.91 L644.50,498.02 L650.44,498.12 L656.38,498.23 L662.33,498.33 L668.27,498.44 L674.21,498.54 L680.15,498.64 L686.09,498.75 L692.03,498.85 L697.97,498.95 L703.91,499.06 L709.85,499.16 L715.79,499.26 L721.73,499.37 L727.67,499.47 L733.61,499.57 L739.55,499.67 L745.49,499.77 L751.43,499.88 L757.37,499.98 L763.31,500.08 L769.25,500.18 L775.19,500.28 L781.13,500.39 L787.07,500.49 L793.01,500.59 L798.95,500.69 L804.89,500.79 L810.83,500.89 L816.77,500.99 L822.71,501.10 L828.65,501.20 L834.59,501.30 L840.53,501.40 L846.47,501.50 L852.41,501.60 L858.35,501.71 L864.29,501.81 L870.23,501.91 L876.17,502.01 L882.11,502.11 L888.05,502.21 L893.99,502.32 L899.94,502.42 L905.88,502.52 L911.82,502.62 L917.76,502.73 L923.70,502.83 L929.64,502.93 L935.58,503.04 L941.52,503.14 L947.46,503.24 L953.40,503.35 L959.34,503.45 L965.28,503.56 L971.22,503.66 L977.16,503.77 L983.10,503.87 L989.04,503.98 L994.98,504.08 L1000.92,504.19 L1006.86,504.30 L1012.80,504.40 L1012.80,547.03 L1006.86,547.19 L1000.92,547.35 L994.98,547.52 L989.04,547.68 L983.10,547.85 L977.16,548.01 L971.22,548.18 L965.28,548.34 L959.34,548.51 L953.40,548.67 L947.46,548.84 L941.52,549.01 L935.58,549.17 L929.64,549.34 L923.70,549.51 L917.76,549.68 L911.82,549.84 L905.88,550.01 L899.94,550.18 L893.99,550.35 L888.05,550.52 L882.11,550.69 L876.17,550.86 L870.23,551.03 L864.29,551.21 L858.35,551.38 L852.41,551.55 L846.47,551.73 L840.53,551.90 L834.59,552.08 L828.65,552.26 L822.71,552.43 L816.77,552.61 L810.83,552.79 L804.89,552.97 L798.95,553.15 L793.01,553.33 L787.07,553.51 L781.13,553.70 L775.19,553.88 L769.25,554.07 L763.31,554.25 L757.37,554.44 L751.43,554.63 L745.49,554.82 L739.55,555.01 L733.61,555.20 L727.67,555.39 L721.73,555.58 L715.79,555.78 L709.85,555.98 L703.91,556.17 L697.97,556.37 L692.03,556.57 L686.09,556.77 L680.15,556.98 L674.21,557.18 L668.27,557.39 L662.33,557.59 L656.38,557.80 L650.44,558.01 L644.50,558.22 L638.56,558.43 L632.62,558.65 L626.68,558.86 L620.74,559.08 L614.80,559.30 L608.86,559.52 L602.92,559.74 L596.98,559.96 L591.04,560.19 L585.10,560.42 L579.16,560.65 L573.22,560.88 L567.28,561.11 L561.34,561.34 L555.40,561.58 L549.46,561.82 L543.52,562.06 L537.58,562.30 L531.64,562.54 L525.70,562.79 L519.76,563.03 L513.82,563.28 L507.88,563.53 L501.94,563.79 L496.00,564.04 L490.06,564.30 L484.12,564.56 L478.18,564.82 L472.24,565.08 L466.30,565.35 L460.36,565.62 L454.42,565.89 L448.48,566.16 L442.54,566.44 L436.60,566.71 L430.66,566.99 L424.72,567.27 L418.77,567.56 L412.83,567.84 L406.89,568.13 L400.95,568.42 L395.01,568.72 L389.07,569.01 L383.13,569.31 L377.19,569.61 L371.25,569.92 L365.31,570.22 L359.37,570.53 L353.43,570.85 L347.49,571.16 L341.55,571.48 L335.61,571.80 L329.67,572.12 L323.73,572.44 L317.79,572.77 L311.85,573.10 L305.91,573.43 L299.97,573.77 L294.03,574.11 L288.09,574.45 L282.15,574.80 L276.21,575.14 L270.27,575.49 L264.33,575.85 L258.39,576.20 L252.45,576.56 L246.51,576.93 L240.57,577.29 L234.63,577.66 L228.69,578.03 L222.75,578.41 L216.81,578.78 L210.87,579.17 L204.93,579.55 L198.99,579.94 L193.05,580.33 L187.11,580.72 L181.16,581.12 L175.22,581.52 L169.28,581.92 L163.34,582.33 L157.40,582.74 L151.46,583.16 L145.52,583.57 L139.58,584.00 L133.64,584.42 L127.70,584.85 L121.76,585.28 L115.82,585.71 L109.88,586.15 L103.94,586.60 L98.00,587.04 L92.06,587.49 L86.12,587.94 L80.18,588.40 L74.24,588.86 L68.30,589.33Z" fill="#ff0000"/>
<path d="M68.30,520.90 L74.24,520.90 L80.18,520.90 L86.12,520.90 L92.06,520.90 L98.00,520.90 L103.94,520.90 L109.88,520.90 L115.82,520.90 L121.76,520.90 L127.70,520.90 L133.64,520.90 L139.58,520.90 L145.52,520.90 L151.46,520.90 L157.40,520.90 L163.34,520.90 L169.28,520.90 L175.22,520.90 L181.16,520.90 L187.11,520.90 L193.05,520.90 L198.99,520.90 L204.93,520.90 L210.87,520.90 L216.81,520.90 L222.75,520.90 L228.69,520.90 L234.63,520.90 L240.57,520.90 L246.51,520.90 L252.45,520.90 L258.39,520.90 L264.33,520.90 L270.27,520.90 L276.21,520.90 L282.15,520.90 L288.09,520.90 L294.03,520.90 L299.97,520.90 L305.91,520.90 L311.85,520.90 L317.79,520.90 L323.73,520.90 L329.67,520.90 L335.61,520.90 L341.55,520.90 L347.49,520.90 L353.43,520.90 L359.37,520.90 L365.31,520.90 L371.25,520.90 L377.19,520.90 L383.13,520.90 L389.07,520.90 L395.01,520.90 L400.95,520.90 L406.89,520.90 L412.83,520.90 L418.77,520.90 L424.72,520.90 L430.66,520.90 L436.60,520.90 L442.54,520.90 L448.48,520.90 L454.42,520.90 L460.36,520.90 L466.30,520.90 L472.24,520.90 L478.18,520.90 L484.12,520.90 L490.06,520.90 L496.00,520.90 L501.94,520.90 L507.88,520.90 L513.82,520.90 L519.76,520.90 L525.70,520.90 L531.64,520.90 L537.58,520.90 L543.52,520.90 L549.46,520.90 L555.40,520.90 L561.34,520.90 L567.28,520.90 L573.22,520.90 L579.16,520.90 L585.10,520.90 L591.04,520.90 L596.98,520.90 L602.92,520.90 L608.86,520.90 L614.80,520.90 L620.74,520.90 L626.68,520.90 L632.62,520.90 L638.56,520.90 L644.50,520.90 L650.44,520.90 L656.38,520.90 L662.33,520.90 L668.27,520.90 L674.21,520.90 L680.15,520.90 L686.09,520.90 L692.03,520.90 L697.97,520.90 L703.91,520.90 L709.85,520.90 L715.79,520.90 L721.73,520.90 L727.67,520.90 L733.61,520.90 L739.55,520.90 L745.49,520.90 L751.43,520.90 L757.37,520.90 L763.31,520.90 L769.25,520.90 L775.19,520.90 L781.13,520.90 L787.07,520.90 L793.01,520.90 L798.95,520.90 L804.89,520.90 L810.83,520.90 L816.77,520.90 L822.71,520.90 L828.65,520.90 L834.59,520.90 L840.53,520.90 L846.47,520.90 L852.41,520.90 L858.35,520.90 L864.29,520.90 L870.23,520.90 L876.17,520.90 L882.11,520.90 L888.05,520.90 L893.99,520.90 L899.94,520.90 L905.88,520.90 L911.82,520.90 L917.76,520.90 L923.70,520.90 L929.64,520.90 L935.58,520.90 L941.52,520.90 L947.46,520.90 L953.40,520.90 L959.34,520.90 L965.28,520.90 L971.22,520.90 L977.16,520.90 L983.10,520.90 L989.04,520.90 L994.98,520.90 L1000.92,520.90 L1006.86,520.90 L1012.80,520.90 L1012.80,537.99 L1006.86,538.12 L1000.92,538.26 L994.98,538.40 L989.04,538.53 L983.10,538.66 L977.16,538.80 L971.22,538.93 L965.28,539.06 L959.34,539.19 L953.40,539.32 L947.46,539.44 L941.52,539.57 L935.58,539.70 L929.64,539.82 L923.70,539.95 L917.76,540.07 L911.82,540.19 L905.88,540.31 L899.94,540.44 L893.99,540.56 L888.05,540.68 L882.11,540.79 L876.17,540.91 L870.23,541.03 L864.29,541.15 L858.35,541.26 L852.41,541.38 L846.47,541.50 L840.53,541.61 L834.59,541.73 L828.65,541.84 L822.71,541.95 L816.77,542.07 L810.83,542.18 L804.89,542.29 L798.95,542.40 L793.01,542.51 L787.07,542.62 L781.13,542.73 L775.19,542.84 L769.25,542.95 L763.31,543.06 L757.37,543.17 L751.43,543.28 L745.49,543.39 L739.55,543.49 L733.61,543.60 L727.67,543.71 L721.73,543.82 L715.79,543.92 L709.85,544.03 L703.91,544.14 L697.97,544.24 L692.03,544.35 L686.09,544.46 L680.15,544.56 L674.21,544.67 L668.27,544.78 L662.33,544.88 L656.38,544.99 L650.44,545.09 L644.50,545.20 L638.56,545.31 L632.62,545.41 L626.68,545.52 L620.74,545.62 L614.80,545.73 L608.86,545.84 L602.92,545.94 L596.98,546.05 L591.04,546.16 L585.10,546.26 L579.16,546.37 L573.22,546.48 L567.28,546.59 L561.34,546.69 L555.40,546.80 L549.46,546.91 L543.52,547.02 L537.58,547.13 L531.64,547.24 L525.70,547.35 L519.76,547.46 L513.82,547.57 L507.88,547.68 L501.94,547.79 L496.00,547.91 L490.06,548.02 L484.12,548.13 L478.18,548.24 L472.24,548.36 L466.30,548.47 L460.36,548.59 L454.42,548.70 L448.48,548.82 L442.54,548.94 L436.60,549.05 L430.66,549.17 L424.72,549.29 L418.77,549.41 L412.83,549.53 L406.89,549.65 L400.95,549.77 L395.01,549.90 L389.07,550.02 L383.13,550.14 L377.19,550.27 L371.25,550.39 L365.31,550.52 L359.37,550.65 L353.43,550.77 L347.49,550.90 L341.55,551.03 L335.61,551.16 L329.67,551.30 L323.73,551.43 L317.79,551.56 L311.85,551.70 L305.91,551.83 L299.97,551.97 L294.03,552.11 L288.09,552.25 L282.15,552.39 L276.21,552.53 L270.27,552.67 L264.33,552.81 L258.39,552.96 L252.45,553.10 L246.51,553.25 L240.57,553.40 L234.63,553.55 L228.69,553.70 L222.75,553.85 L216.81,554.00 L210.87,554.15 L204.93,554.31 L198.99,554.47 L193.05,554.62 L187.11,554.78 L181.16,554.95 L175.22,555.11 L169.28,555.27 L163.34,555.44 L157.40,555.60 L151.46,555.77 L145.52,555.94 L139.58,556.11 L133.64,556.28 L127.70,556.46 L121.76,556.63 L115.82,556.81 L109.88,556.99 L103.94,557.17 L98.00,557.35 L92.06,557.54 L86.12,557.72 L80.18,557.91 L74.24,558.10 L68.30,558.29Z" fill="#00bfbf"/>
<line x1="68.9" y1="436" x2="68.9" y2="455" stroke="#ff0000" stroke-width="1.3"/>
<g fill="#141414">
<text transform="translate(68.30,623.60) scale(1.0,1.12)" font-size="12.8" text-anchor="middle">0</text>
<text transform="translate(127.33,623.60) scale(1.0,1.12)" font-size="12.8" text-anchor="middle">0.25</text>
<text transform="translate(186.36,623.60) scale(1.0,1.12)" font-size="12.8" text-anchor="middle">0.5</text>
<text transform="translate(245.39,623.60) scale(1.0,1.12)" font-size="12.8" text-anchor="middle">0.75</text>
<text transform="translate(304.43,623.60) scale(1.0,1.12)" font-size="12.8" text-anchor="middle">1</text>
<text transform="translate(363.46,623.60) scale(1.0,1.12)" font-size="12.8" text-anchor="middle">1.25</text>
<text transform="translate(422.49,623.60) scale(1.0,1.12)" font-size="12.8" text-anchor="middle">1.5</text>
<text transform="translate(481.52,623.60) scale(1.0,1.12)" font-size="12.8" text-anchor="middle">1.75</text>
<text transform="translate(540.55,623.60) scale(1.0,1.12)" font-size="12.8" text-anchor="middle">2</text>
<text transform="translate(599.58,623.60) scale(1.0,1.12)" font-size="12.8" text-anchor="middle">2.25</text>
<text transform="translate(658.61,623.60) scale(1.0,1.12)" font-size="12.8" text-anchor="middle">2.5</text>
<text transform="translate(717.64,623.60) scale(1.0,1.12)" font-size="12.8" text-anchor="middle">2.75</text>
<text transform="translate(776.67,623.60) scale(1.0,1.12)" font-size="12.8" text-anchor="middle">3</text>
<text transform="translate(835.71,623.60) scale(1.0,1.12)" font-size="12.8" text-anchor="middle">3.25</text>
<text transform="translate(894.74,623.60) scale(1.0,1.12)" font-size="12.8" text-anchor="middle">3.5</text>
<text transform="translate(953.77,623.60) scale(1.0,1.12)" font-size="12.8" text-anchor="middle">3.75</text>
<text transform="translate(1012.80,623.60) scale(1.0,1.12)" font-size="12.8" text-anchor="middle">4</text>
<text transform="translate(64.50,613.00) scale(1.0,1.12)" font-size="12.8" text-anchor="end">-1.5</text>
<text transform="translate(64.50,584.23) scale(1.0,1.12)" font-size="12.8" text-anchor="end">-1</text>
<text transform="translate(64.50,555.47) scale(1.0,1.12)" font-size="12.8" text-anchor="end">-0.5</text>
<text transform="translate(64.50,526.70) scale(1.0,1.12)" font-size="12.8" text-anchor="end">0</text>
<text transform="translate(64.50,497.93) scale(1.0,1.12)" font-size="12.8" text-anchor="end">0.5</text>
<text transform="translate(64.50,469.17) scale(1.0,1.12)" font-size="12.8" text-anchor="end">1</text>
<text transform="translate(64.50,440.40) scale(1.0,1.12)" font-size="12.8" text-anchor="end">1.5</text>
</g>
<text transform="translate(26.50,522.70) rotate(-90) scale(1.0,1.12)" font-size="13" text-anchor="middle" fill="#141414">I<tspan font-size="9.8" dy="5.8">Battary</tspan><tspan dy="-5.8"> (A)</tspan></text>
<text transform="translate(540.20,639.60) scale(1.0,1.12)" font-size="13.2" text-anchor="middle" fill="#141414">Time (h)</text>
<rect x="763.70" y="441.60" width="244.10" height="28.20" fill="#fff" stroke="#3a3a3a" stroke-width="1.3"/>
<g fill="#141414">
<line x1="771.00" y1="454.80" x2="804.00" y2="454.80" stroke="#4646ff" stroke-width="1.4"/>
<text transform="translate(807.40,456.60) scale(1.0,1.12)" font-size="12.8">I<tspan font-size="9.8" dy="6.2">B1</tspan></text>
<line x1="830.80" y1="454.80" x2="863.80" y2="454.80" stroke="#2f9a2f" stroke-width="1.4"/>
<text transform="translate(867.20,456.60) scale(1.0,1.12)" font-size="12.8">I<tspan font-size="9.8" dy="6.2">B2</tspan></text>
<line x1="890.60" y1="454.80" x2="923.60" y2="454.80" stroke="#ff4646" stroke-width="1.4"/>
<text transform="translate(927.00,456.60) scale(1.0,1.12)" font-size="12.8">I<tspan font-size="9.8" dy="6.2">B3</tspan></text>
<line x1="950.40" y1="454.80" x2="983.40" y2="454.80" stroke="#3ccaca" stroke-width="1.4"/>
<text transform="translate(986.80,456.60) scale(1.0,1.12)" font-size="12.8">I<tspan font-size="9.8" dy="6.2">B4</tspan></text>
</g>
<line x1="129.50" y1="850.40" x2="129.50" y2="655.90" stroke="#5a5630" stroke-width="1.6" stroke-dasharray="2 3"/>
<line x1="188.50" y1="850.40" x2="188.50" y2="655.90" stroke="#5a5630" stroke-width="1.6" stroke-dasharray="2 3"/>
<line x1="248.50" y1="850.40" x2="248.50" y2="655.90" stroke="#5a5630" stroke-width="1.6" stroke-dasharray="2 3"/>
<line x1="307.50" y1="850.40" x2="307.50" y2="655.90" stroke="#5a5630" stroke-width="1.6" stroke-dasharray="2 3"/>
<line x1="366.50" y1="850.40" x2="366.50" y2="655.90" stroke="#5a5630" stroke-width="1.6" stroke-dasharray="2 3"/>
<line x1="425.50" y1="850.40" x2="425.50" y2="655.90" stroke="#5a5630" stroke-width="1.6" stroke-dasharray="2 3"/>
<line x1="485.50" y1="850.40" x2="485.50" y2="655.90" stroke="#5a5630" stroke-width="1.6" stroke-dasharray="2 3"/>
<line x1="544.50" y1="850.40" x2="544.50" y2="655.90" stroke="#5a5630" stroke-width="1.6" stroke-dasharray="2 3"/>
<line x1="603.50" y1="850.40" x2="603.50" y2="655.90" stroke="#5a5630" stroke-width="1.6" stroke-dasharray="2 3"/>
<line x1="662.50" y1="850.40" x2="662.50" y2="655.90" stroke="#5a5630" stroke-width="1.6" stroke-dasharray="2 3"/>
<line x1="722.50" y1="850.40" x2="722.50" y2="655.90" stroke="#5a5630" stroke-width="1.6" stroke-dasharray="2 3"/>
<line x1="781.50" y1="850.40" x2="781.50" y2="655.90" stroke="#5a5630" stroke-width="1.6" stroke-dasharray="2 3"/>
<line x1="840.50" y1="850.40" x2="840.50" y2="655.90" stroke="#5a5630" stroke-width="1.6" stroke-dasharray="2 3"/>
<line x1="899.50" y1="850.40" x2="899.50" y2="655.90" stroke="#5a5630" stroke-width="1.6" stroke-dasharray="2 3"/>
<line x1="959.50" y1="850.40" x2="959.50" y2="655.90" stroke="#5a5630" stroke-width="1.6" stroke-dasharray="2 3"/>
<line x1="70.40" y1="836.50" x2="1018.30" y2="836.50" stroke="#5a5630" stroke-width="1.6" stroke-dasharray="2 3"/>
<line x1="70.40" y1="808.50" x2="1018.30" y2="808.50" stroke="#5a5630" stroke-width="1.6" stroke-dasharray="2 3"/>
<line x1="70.40" y1="780.50" x2="1018.30" y2="780.50" stroke="#5a5630" stroke-width="1.6" stroke-dasharray="2 3"/>
<line x1="70.40" y1="753.50" x2="1018.30" y2="753.50" stroke="#5a5630" stroke-width="1.6" stroke-dasharray="2 3"/>
<line x1="70.40" y1="725.50" x2="1018.30" y2="725.50" stroke="#5a5630" stroke-width="1.6" stroke-dasharray="2 3"/>
<line x1="70.40" y1="697.50" x2="1018.30" y2="697.50" stroke="#5a5630" stroke-width="1.6" stroke-dasharray="2 3"/>
<line x1="70.40" y1="669.50" x2="1018.30" y2="669.50" stroke="#5a5630" stroke-width="1.6" stroke-dasharray="2 3"/>
<line x1="129.50" y1="850.40" x2="129.50" y2="838.40" stroke="#5a5732" stroke-width="1.8"/>
<line x1="129.50" y1="655.90" x2="129.50" y2="667.90" stroke="#5a5732" stroke-width="1.8"/>
<line x1="188.50" y1="850.40" x2="188.50" y2="838.40" stroke="#5a5732" stroke-width="1.8"/>
<line x1="188.50" y1="655.90" x2="188.50" y2="667.90" stroke="#5a5732" stroke-width="1.8"/>
<line x1="248.50" y1="850.40" x2="248.50" y2="838.40" stroke="#5a5732" stroke-width="1.8"/>
<line x1="248.50" y1="655.90" x2="248.50" y2="667.90" stroke="#5a5732" stroke-width="1.8"/>
<line x1="307.50" y1="850.40" x2="307.50" y2="838.40" stroke="#5a5732" stroke-width="1.8"/>
<line x1="307.50" y1="655.90" x2="307.50" y2="667.90" stroke="#5a5732" stroke-width="1.8"/>
<line x1="366.50" y1="850.40" x2="366.50" y2="838.40" stroke="#5a5732" stroke-width="1.8"/>
<line x1="366.50" y1="655.90" x2="366.50" y2="667.90" stroke="#5a5732" stroke-width="1.8"/>
<line x1="425.50" y1="850.40" x2="425.50" y2="838.40" stroke="#5a5732" stroke-width="1.8"/>
<line x1="425.50" y1="655.90" x2="425.50" y2="667.90" stroke="#5a5732" stroke-width="1.8"/>
<line x1="485.50" y1="850.40" x2="485.50" y2="838.40" stroke="#5a5732" stroke-width="1.8"/>
<line x1="485.50" y1="655.90" x2="485.50" y2="667.90" stroke="#5a5732" stroke-width="1.8"/>
<line x1="544.50" y1="850.40" x2="544.50" y2="838.40" stroke="#5a5732" stroke-width="1.8"/>
<line x1="544.50" y1="655.90" x2="544.50" y2="667.90" stroke="#5a5732" stroke-width="1.8"/>
<line x1="603.50" y1="850.40" x2="603.50" y2="838.40" stroke="#5a5732" stroke-width="1.8"/>
<line x1="603.50" y1="655.90" x2="603.50" y2="667.90" stroke="#5a5732" stroke-width="1.8"/>
<line x1="662.50" y1="850.40" x2="662.50" y2="838.40" stroke="#5a5732" stroke-width="1.8"/>
<line x1="662.50" y1="655.90" x2="662.50" y2="667.90" stroke="#5a5732" stroke-width="1.8"/>
<line x1="722.50" y1="850.40" x2="722.50" y2="838.40" stroke="#5a5732" stroke-width="1.8"/>
<line x1="722.50" y1="655.90" x2="722.50" y2="667.90" stroke="#5a5732" stroke-width="1.8"/>
<line x1="781.50" y1="850.40" x2="781.50" y2="838.40" stroke="#5a5732" stroke-width="1.8"/>
<line x1="781.50" y1="655.90" x2="781.50" y2="667.90" stroke="#5a5732" stroke-width="1.8"/>
<line x1="840.50" y1="850.40" x2="840.50" y2="838.40" stroke="#5a5732" stroke-width="1.8"/>
<line x1="840.50" y1="655.90" x2="840.50" y2="667.90" stroke="#5a5732" stroke-width="1.8"/>
<line x1="899.50" y1="850.40" x2="899.50" y2="838.40" stroke="#5a5732" stroke-width="1.8"/>
<line x1="899.50" y1="655.90" x2="899.50" y2="667.90" stroke="#5a5732" stroke-width="1.8"/>
<line x1="959.50" y1="850.40" x2="959.50" y2="838.40" stroke="#5a5732" stroke-width="1.8"/>
<line x1="959.50" y1="655.90" x2="959.50" y2="667.90" stroke="#5a5732" stroke-width="1.8"/>
<line x1="70.40" y1="836.50" x2="82.40" y2="836.50" stroke="#5a5732" stroke-width="1.8"/>
<line x1="1018.30" y1="836.50" x2="1006.30" y2="836.50" stroke="#5a5732" stroke-width="1.8"/>
<line x1="70.40" y1="808.50" x2="82.40" y2="808.50" stroke="#5a5732" stroke-width="1.8"/>
<line x1="1018.30" y1="808.50" x2="1006.30" y2="808.50" stroke="#5a5732" stroke-width="1.8"/>
<line x1="70.40" y1="780.50" x2="82.40" y2="780.50" stroke="#5a5732" stroke-width="1.8"/>
<line x1="1018.30" y1="780.50" x2="1006.30" y2="780.50" stroke="#5a5732" stroke-width="1.8"/>
<line x1="70.40" y1="753.50" x2="82.40" y2="753.50" stroke="#5a5732" stroke-width="1.8"/>
<line x1="1018.30" y1="753.50" x2="1006.30" y2="753.50" stroke="#5a5732" stroke-width="1.8"/>
<line x1="70.40" y1="725.50" x2="82.40" y2="725.50" stroke="#5a5732" stroke-width="1.8"/>
<line x1="1018.30" y1="725.50" x2="1006.30" y2="725.50" stroke="#5a5732" stroke-width="1.8"/>
<line x1="70.40" y1="697.50" x2="82.40" y2="697.50" stroke="#5a5732" stroke-width="1.8"/>
<line x1="1018.30" y1="697.50" x2="1006.30" y2="697.50" stroke="#5a5732" stroke-width="1.8"/>
<line x1="70.40" y1="669.50" x2="82.40" y2="669.50" stroke="#5a5732" stroke-width="1.8"/>
<line x1="1018.30" y1="669.50" x2="1006.30" y2="669.50" stroke="#5a5732" stroke-width="1.8"/>
<rect x="70.40" y="655.90" width="947.90" height="194.50" fill="none" stroke="#76724c" stroke-width="1.7"/>
<path d="M70.40,667.61 L76.36,668.05 L82.32,668.49 L88.28,668.92 L94.25,669.35 L100.21,669.79 L106.17,670.21 L112.13,670.64 L118.09,671.07 L124.05,671.49 L130.02,671.92 L135.98,672.34 L141.94,672.76 L147.90,673.18 L153.86,673.59 L159.82,674.01 L165.79,674.42 L171.75,674.83 L177.71,675.24 L183.67,675.65 L189.63,676.06 L195.59,676.47 L201.56,676.87 L207.52,677.27 L213.48,677.67 L219.44,678.07 L225.40,678.47 L231.36,678.87 L237.33,679.26 L243.29,679.66 L249.25,680.05 L255.21,680.44 L261.17,680.83 L267.13,681.22 L273.10,681.60 L279.06,681.99 L285.02,682.37 L290.98,682.75 L296.94,683.13 L302.90,683.51 L308.87,683.88 L314.83,684.26 L320.79,684.63 L326.75,685.00 L332.71,685.37 L338.67,685.74 L344.64,686.11 L350.60,686.48 L356.56,686.84 L362.52,687.20 L368.48,687.56 L374.44,687.92 L380.41,688.28 L386.37,688.64 L392.33,689.00 L398.29,689.35 L404.25,689.70 L410.21,690.05 L416.17,690.40 L422.14,690.75 L428.10,691.10 L434.06,691.44 L440.02,691.79 L445.98,692.13 L451.94,692.47 L457.91,692.81 L463.87,693.15 L469.83,693.48 L475.79,693.82 L481.75,694.15 L487.71,694.48 L493.68,694.81 L499.64,695.14 L505.60,695.47 L511.56,695.79 L517.52,696.12 L523.48,696.44 L529.45,696.76 L535.41,697.08 L541.37,697.40 L547.33,697.72 L553.29,698.04 L559.25,698.35 L565.22,698.67 L571.18,698.98 L577.14,699.29 L583.10,699.60 L589.06,699.90 L595.02,700.21 L600.99,700.51 L606.95,700.82 L612.91,701.12 L618.87,701.42 L624.83,701.72 L630.79,702.02 L636.76,702.31 L642.72,702.61 L648.68,702.90 L654.64,703.19 L660.60,703.48 L666.56,703.77 L672.53,704.06 L678.49,704.35 L684.45,704.63 L690.41,704.92 L696.37,705.20 L702.33,705.48 L708.29,705.76 L714.26,706.04 L720.22,706.31 L726.18,706.59 L732.14,706.86 L738.10,707.14 L744.06,707.41 L750.03,707.68 L755.99,707.95 L761.95,708.21 L767.91,708.48 L773.87,708.74 L779.83,709.01 L785.80,709.27 L791.76,709.53 L797.72,709.79 L803.68,710.05 L809.64,710.30 L815.60,710.56 L821.57,710.81 L827.53,711.07 L833.49,711.32 L839.45,711.57 L845.41,711.82 L851.37,712.06 L857.34,712.31 L863.30,712.55 L869.26,712.80 L875.22,713.04 L881.18,713.28 L887.14,713.52 L893.11,713.76 L899.07,713.99 L905.03,714.23 L910.99,714.46 L916.95,714.70 L922.91,714.93 L928.88,715.16 L934.84,715.39 L940.80,715.62 L946.76,715.84 L952.72,716.07 L958.68,716.29 L964.65,716.51 L970.61,716.74 L976.57,716.96 L982.53,717.18 L988.49,717.39 L994.45,717.61 L1000.42,717.82 L1006.38,718.04 L1012.34,718.25 L1018.30,718.46" fill="none" stroke="#3c3cff" stroke-width="1.8"/>
<path d="M70.40,700.12 L76.36,700.60 L82.32,701.07 L88.28,701.54 L94.25,702.01 L100.21,702.47 L106.17,702.93 L112.13,703.38 L118.09,703.83 L124.05,704.27 L130.02,704.71 L135.98,705.14 L141.94,705.57 L147.90,705.99 L153.86,706.41 L159.82,706.83 L165.79,707.24 L171.75,707.65 L177.71,708.05 L183.67,708.45 L189.63,708.84 L195.59,709.23 L201.56,709.61 L207.52,709.99 L213.48,710.37 L219.44,710.74 L225.40,711.11 L231.36,711.47 L237.33,711.83 L243.29,712.19 L249.25,712.54 L255.21,712.89 L261.17,713.23 L267.13,713.57 L273.10,713.91 L279.06,714.24 L285.02,714.57 L290.98,714.90 L296.94,715.22 L302.90,715.54 L308.87,715.85 L314.83,716.16 L320.79,716.47 L326.75,716.78 L332.71,717.08 L338.67,717.37 L344.64,717.67 L350.60,717.96 L356.56,718.25 L362.52,718.53 L368.48,718.81 L374.44,719.09 L380.41,719.37 L386.37,719.64 L392.33,719.91 L398.29,720.17 L404.25,720.44 L410.21,720.70 L416.17,720.95 L422.14,721.21 L428.10,721.46 L434.06,721.71 L440.02,721.95 L445.98,722.20 L451.94,722.44 L457.91,722.68 L463.87,722.91 L469.83,723.14 L475.79,723.37 L481.75,723.60 L487.71,723.83 L493.68,724.05 L499.64,724.27 L505.60,724.49 L511.56,724.71 L517.52,724.92 L523.48,725.13 L529.45,725.34 L535.41,725.55 L541.37,725.75 L547.33,725.96 L553.29,726.16 L559.25,726.36 L565.22,726.56 L571.18,726.75 L577.14,726.94 L583.10,727.14 L589.06,727.33 L595.02,727.51 L600.99,727.70 L606.95,727.89 L612.91,728.07 L618.87,728.25 L624.83,728.43 L630.79,728.61 L636.76,728.79 L642.72,728.96 L648.68,729.14 L654.64,729.31 L660.60,729.48 L666.56,729.65 L672.53,729.82 L678.49,729.99 L684.45,730.15 L690.41,730.32 L696.37,730.48 L702.33,730.65 L708.29,730.81 L714.26,730.97 L720.22,731.13 L726.18,731.29 L732.14,731.45 L738.10,731.60 L744.06,731.76 L750.03,731.92 L755.99,732.07 L761.95,732.23 L767.91,732.38 L773.87,732.53 L779.83,732.69 L785.80,732.84 L791.76,732.99 L797.72,733.14 L803.68,733.29 L809.64,733.44 L815.60,733.59 L821.57,733.74 L827.53,733.89 L833.49,734.04 L839.45,734.19 L845.41,734.34 L851.37,734.48 L857.34,734.63 L863.30,734.78 L869.26,734.93 L875.22,735.08 L881.18,735.23 L887.14,735.37 L893.11,735.52 L899.07,735.67 L905.03,735.82 L910.99,735.97 L916.95,736.12 L922.91,736.27 L928.88,736.42 L934.84,736.57 L940.80,736.72 L946.76,736.87 L952.72,737.02 L958.68,737.18 L964.65,737.33 L970.61,737.48 L976.57,737.64 L982.53,737.79 L988.49,737.95 L994.45,738.10 L1000.42,738.26 L1006.38,738.42 L1012.34,738.58 L1018.30,738.74" fill="none" stroke="#229422" stroke-width="1.8"/>
<path d="M70.40,811.25 L76.36,810.80 L82.32,810.35 L88.28,809.90 L94.25,809.46 L100.21,809.02 L106.17,808.58 L112.13,808.15 L118.09,807.73 L124.05,807.30 L130.02,806.88 L135.98,806.47 L141.94,806.06 L147.90,805.65 L153.86,805.25 L159.82,804.85 L165.79,804.45 L171.75,804.06 L177.71,803.67 L183.67,803.29 L189.63,802.91 L195.59,802.53 L201.56,802.15 L207.52,801.78 L213.48,801.42 L219.44,801.05 L225.40,800.69 L231.36,800.34 L237.33,799.99 L243.29,799.64 L249.25,799.29 L255.21,798.95 L261.17,798.61 L267.13,798.27 L273.10,797.94 L279.06,797.61 L285.02,797.29 L290.98,796.96 L296.94,796.64 L302.90,796.33 L308.87,796.01 L314.83,795.70 L320.79,795.40 L326.75,795.09 L332.71,794.79 L338.67,794.49 L344.64,794.20 L350.60,793.90 L356.56,793.62 L362.52,793.33 L368.48,793.05 L374.44,792.77 L380.41,792.49 L386.37,792.21 L392.33,791.94 L398.29,791.67 L404.25,791.40 L410.21,791.14 L416.17,790.88 L422.14,790.62 L428.10,790.36 L434.06,790.11 L440.02,789.86 L445.98,789.61 L451.94,789.36 L457.91,789.12 L463.87,788.88 L469.83,788.64 L475.79,788.40 L481.75,788.17 L487.71,787.94 L493.68,787.71 L499.64,787.48 L505.60,787.26 L511.56,787.04 L517.52,786.81 L523.48,786.60 L529.45,786.38 L535.41,786.17 L541.37,785.95 L547.33,785.75 L553.29,785.54 L559.25,785.33 L565.22,785.13 L571.18,784.93 L577.14,784.73 L583.10,784.53 L589.06,784.33 L595.02,784.14 L600.99,783.95 L606.95,783.76 L612.91,783.57 L618.87,783.38 L624.83,783.20 L630.79,783.01 L636.76,782.83 L642.72,782.65 L648.68,782.47 L654.64,782.29 L660.60,782.12 L666.56,781.95 L672.53,781.77 L678.49,781.60 L684.45,781.43 L690.41,781.27 L696.37,781.10 L702.33,780.93 L708.29,780.77 L714.26,780.61 L720.22,780.45 L726.18,780.29 L732.14,780.13 L738.10,779.97 L744.06,779.81 L750.03,779.66 L755.99,779.51 L761.95,779.35 L767.91,779.20 L773.87,779.05 L779.83,778.90 L785.80,778.75 L791.76,778.60 L797.72,778.46 L803.68,778.31 L809.64,778.17 L815.60,778.02 L821.57,777.88 L827.53,777.74 L833.49,777.60 L839.45,777.46 L845.41,777.32 L851.37,777.18 L857.34,777.04 L863.30,776.90 L869.26,776.76 L875.22,776.63 L881.18,776.49 L887.14,776.36 L893.11,776.22 L899.07,776.09 L905.03,775.95 L910.99,775.82 L916.95,775.69 L922.91,775.55 L928.88,775.42 L934.84,775.29 L940.80,775.16 L946.76,775.03 L952.72,774.90 L958.68,774.77 L964.65,774.63 L970.61,774.50 L976.57,774.37 L982.53,774.24 L988.49,774.11 L994.45,773.98 L1000.42,773.85 L1006.38,773.72 L1012.34,773.60 L1018.30,773.47" fill="none" stroke="#ff3420" stroke-width="1.8"/>
<path d="M70.40,842.95 L76.36,842.55 L82.32,842.16 L88.28,841.77 L94.25,841.39 L100.21,841.00 L106.17,840.61 L112.13,840.22 L118.09,839.84 L124.05,839.45 L130.02,839.07 L135.98,838.68 L141.94,838.30 L147.90,837.92 L153.86,837.53 L159.82,837.15 L165.79,836.77 L171.75,836.39 L177.71,836.01 L183.67,835.63 L189.63,835.26 L195.59,834.88 L201.56,834.51 L207.52,834.13 L213.48,833.76 L219.44,833.38 L225.40,833.01 L231.36,832.64 L237.33,832.27 L243.29,831.90 L249.25,831.53 L255.21,831.16 L261.17,830.79 L267.13,830.43 L273.10,830.06 L279.06,829.70 L285.02,829.34 L290.98,828.97 L296.94,828.61 L302.90,828.25 L308.87,827.89 L314.83,827.53 L320.79,827.17 L326.75,826.82 L332.71,826.46 L338.67,826.11 L344.64,825.75 L350.60,825.40 L356.56,825.05 L362.52,824.70 L368.48,824.35 L374.44,824.00 L380.41,823.66 L386.37,823.31 L392.33,822.96 L398.29,822.62 L404.25,822.28 L410.21,821.94 L416.17,821.60 L422.14,821.26 L428.10,820.92 L434.06,820.58 L440.02,820.24 L445.98,819.91 L451.94,819.58 L457.91,819.24 L463.87,818.91 L469.83,818.58 L475.79,818.25 L481.75,817.93 L487.71,817.60 L493.68,817.28 L499.64,816.95 L505.60,816.63 L511.56,816.31 L517.52,815.99 L523.48,815.67 L529.45,815.35 L535.41,815.04 L541.37,814.72 L547.33,814.41 L553.29,814.10 L559.25,813.79 L565.22,813.48 L571.18,813.17 L577.14,812.86 L583.10,812.56 L589.06,812.25 L595.02,811.95 L600.99,811.65 L606.95,811.35 L612.91,811.05 L618.87,810.75 L624.83,810.46 L630.79,810.16 L636.76,809.87 L642.72,809.58 L648.68,809.29 L654.64,809.00 L660.60,808.72 L666.56,808.43 L672.53,808.15 L678.49,807.87 L684.45,807.59 L690.41,807.31 L696.37,807.03 L702.33,806.75 L708.29,806.48 L714.26,806.21 L720.22,805.94 L726.18,805.67 L732.14,805.40 L738.10,805.13 L744.06,804.87 L750.03,804.61 L755.99,804.34 L761.95,804.08 L767.91,803.83 L773.87,803.57 L779.83,803.32 L785.80,803.06 L791.76,802.81 L797.72,802.56 L803.68,802.31 L809.64,802.07 L815.60,801.82 L821.57,801.58 L827.53,801.34 L833.49,801.10 L839.45,800.86 L845.41,800.63 L851.37,800.39 L857.34,800.16 L863.30,799.93 L869.26,799.70 L875.22,799.47 L881.18,799.25 L887.14,799.03 L893.11,798.80 L899.07,798.59 L905.03,798.37 L910.99,798.15 L916.95,797.94 L922.91,797.73 L928.88,797.52 L934.84,797.31 L940.80,797.10 L946.76,796.90 L952.72,796.69 L958.68,796.49 L964.65,796.30 L970.61,796.10 L976.57,795.90 L982.53,795.71 L988.49,795.52 L994.45,795.33 L1000.42,795.15 L1006.38,794.96 L1012.34,794.78 L1018.30,794.60" fill="none" stroke="#34c6c2" stroke-width="1.8"/>
<g fill="#2b2914">
<text transform="translate(70.40,864.60) scale(1.0,1.18)" font-size="10.6" text-anchor="middle">0</text>
<text transform="translate(129.64,864.60) scale(1.0,1.18)" font-size="10.6" text-anchor="middle">0.25</text>
<text transform="translate(188.89,864.60) scale(1.0,1.18)" font-size="10.6" text-anchor="middle">0.5</text>
<text transform="translate(248.13,864.60) scale(1.0,1.18)" font-size="10.6" text-anchor="middle">0.75</text>
<text transform="translate(307.38,864.60) scale(1.0,1.18)" font-size="10.6" text-anchor="middle">1</text>
<text transform="translate(366.62,864.60) scale(1.0,1.18)" font-size="10.6" text-anchor="middle">1.25</text>
<text transform="translate(425.86,864.60) scale(1.0,1.18)" font-size="10.6" text-anchor="middle">1.5</text>
<text transform="translate(485.11,864.60) scale(1.0,1.18)" font-size="10.6" text-anchor="middle">1.75</text>
<text transform="translate(544.35,864.60) scale(1.0,1.18)" font-size="10.6" text-anchor="middle">2</text>
<text transform="translate(603.59,864.60) scale(1.0,1.18)" font-size="10.6" text-anchor="middle">2.25</text>
<text transform="translate(662.84,864.60) scale(1.0,1.18)" font-size="10.6" text-anchor="middle">2.5</text>
<text transform="translate(722.08,864.60) scale(1.0,1.18)" font-size="10.6" text-anchor="middle">2.75</text>
<text transform="translate(781.32,864.60) scale(1.0,1.18)" font-size="10.6" text-anchor="middle">3</text>
<text transform="translate(840.57,864.60) scale(1.0,1.18)" font-size="10.6" text-anchor="middle">3.25</text>
<text transform="translate(899.81,864.60) scale(1.0,1.18)" font-size="10.6" text-anchor="middle">3.5</text>
<text transform="translate(959.06,864.60) scale(1.0,1.18)" font-size="10.6" text-anchor="middle">3.75</text>
<text transform="translate(1018.30,864.60) scale(1.0,1.18)" font-size="10.6" text-anchor="middle">4</text>
<text transform="translate(66.00,840.91) scale(1.0,1.18)" font-size="10.6" text-anchor="end">36</text>
<text transform="translate(66.00,813.12) scale(1.0,1.18)" font-size="10.6" text-anchor="end">37</text>
<text transform="translate(66.00,785.34) scale(1.0,1.18)" font-size="10.6" text-anchor="end">38</text>
<text transform="translate(66.00,757.55) scale(1.0,1.18)" font-size="10.6" text-anchor="end">39</text>
<text transform="translate(66.00,729.76) scale(1.0,1.18)" font-size="10.6" text-anchor="end">40</text>
<text transform="translate(66.00,701.98) scale(1.0,1.18)" font-size="10.6" text-anchor="end">41</text>
<text transform="translate(66.00,674.19) scale(1.0,1.18)" font-size="10.6" text-anchor="end">42</text>
</g>
<text transform="translate(25.60,753.00) rotate(-90) scale(1.0,1.12)" font-size="13.6" text-anchor="middle" fill="#2b2914">Energy<tspan font-size="10" dy="5.4">Batteries</tspan><tspan dy="-5.4"> (Wh)</tspan></text>
<rect x="755.30" y="661.60" width="257.80" height="25.60" fill="#fff" stroke="#6e6a46" stroke-width="1.5"/>
<g fill="#2b2914">
<line x1="761.90" y1="674.00" x2="794.90" y2="674.00" stroke="#6464ff" stroke-width="1.6"/>
<text transform="translate(798.70,676.30) scale(1.0,1.12)" font-size="12">E<tspan font-size="9.2" dy="5">B1</tspan></text>
<line x1="825.10" y1="674.00" x2="858.10" y2="674.00" stroke="#5cb048" stroke-width="1.6"/>
<text transform="translate(861.90,676.30) scale(1.0,1.12)" font-size="12">E<tspan font-size="9.2" dy="5">B2</tspan></text>
<line x1="888.30" y1="674.00" x2="921.30" y2="674.00" stroke="#ff6048" stroke-width="1.6"/>
<text transform="translate(925.10,676.30) scale(1.0,1.12)" font-size="12">E<tspan font-size="9.2" dy="5">B3</tspan></text>
<line x1="951.50" y1="674.00" x2="984.50" y2="674.00" stroke="#64d4d0" stroke-width="1.6"/>
<text transform="translate(988.30,676.30) scale(1.0,1.12)" font-size="12">E<tspan font-size="9.2" dy="5">B4</tspan></text>
</g>
<line x1="129.50" y1="1067.00" x2="129.50" y2="881.80" stroke="#5a5630" stroke-width="1.6" stroke-dasharray="2 3"/>
<line x1="189.50" y1="1067.00" x2="189.50" y2="881.80" stroke="#5a5630" stroke-width="1.6" stroke-dasharray="2 3"/>
<line x1="248.50" y1="1067.00" x2="248.50" y2="881.80" stroke="#5a5630" stroke-width="1.6" stroke-dasharray="2 3"/>
<line x1="307.50" y1="1067.00" x2="307.50" y2="881.80" stroke="#5a5630" stroke-width="1.6" stroke-dasharray="2 3"/>
<line x1="366.50" y1="1067.00" x2="366.50" y2="881.80" stroke="#5a5630" stroke-width="1.6" stroke-dasharray="2 3"/>
<line x1="426.50" y1="1067.00" x2="426.50" y2="881.80" stroke="#5a5630" stroke-width="1.6" stroke-dasharray="2 3"/>
<line x1="485.50" y1="1067.00" x2="485.50" y2="881.80" stroke="#5a5630" stroke-width="1.6" stroke-dasharray="2 3"/>
<line x1="544.50" y1="1067.00" x2="544.50" y2="881.80" stroke="#5a5630" stroke-width="1.6" stroke-dasharray="2 3"/>
<line x1="603.50" y1="1067.00" x2="603.50" y2="881.80" stroke="#5a5630" stroke-width="1.6" stroke-dasharray="2 3"/>
<line x1="663.50" y1="1067.00" x2="663.50" y2="881.80" stroke="#5a5630" stroke-width="1.6" stroke-dasharray="2 3"/>
<line x1="722.50" y1="1067.00" x2="722.50" y2="881.80" stroke="#5a5630" stroke-width="1.6" stroke-dasharray="2 3"/>
<line x1="781.50" y1="1067.00" x2="781.50" y2="881.80" stroke="#5a5630" stroke-width="1.6" stroke-dasharray="2 3"/>
<line x1="840.50" y1="1067.00" x2="840.50" y2="881.80" stroke="#5a5630" stroke-width="1.6" stroke-dasharray="2 3"/>
<line x1="900.50" y1="1067.00" x2="900.50" y2="881.80" stroke="#5a5630" stroke-width="1.6" stroke-dasharray="2 3"/>
<line x1="959.50" y1="1067.00" x2="959.50" y2="881.80" stroke="#5a5630" stroke-width="1.6" stroke-dasharray="2 3"/>
<line x1="70.50" y1="1029.50" x2="1018.50" y2="1029.50" stroke="#5a5630" stroke-width="1.6" stroke-dasharray="2 3"/>
<line x1="70.50" y1="992.50" x2="1018.50" y2="992.50" stroke="#5a5630" stroke-width="1.6" stroke-dasharray="2 3"/>
<line x1="70.50" y1="955.50" x2="1018.50" y2="955.50" stroke="#5a5630" stroke-width="1.6" stroke-dasharray="2 3"/>
<line x1="70.50" y1="918.50" x2="1018.50" y2="918.50" stroke="#5a5630" stroke-width="1.6" stroke-dasharray="2 3"/>
<line x1="129.50" y1="1067.00" x2="129.50" y2="1055.00" stroke="#5a5732" stroke-width="1.8"/>
<line x1="129.50" y1="881.80" x2="129.50" y2="893.80" stroke="#5a5732" stroke-width="1.8"/>
<line x1="189.50" y1="1067.00" x2="189.50" y2="1055.00" stroke="#5a5732" stroke-width="1.8"/>
<line x1="189.50" y1="881.80" x2="189.50" y2="893.80" stroke="#5a5732" stroke-width="1.8"/>
<line x1="248.50" y1="1067.00" x2="248.50" y2="1055.00" stroke="#5a5732" stroke-width="1.8"/>
<line x1="248.50" y1="881.80" x2="248.50" y2="893.80" stroke="#5a5732" stroke-width="1.8"/>
<line x1="307.50" y1="1067.00" x2="307.50" y2="1055.00" stroke="#5a5732" stroke-width="1.8"/>
<line x1="307.50" y1="881.80" x2="307.50" y2="893.80" stroke="#5a5732" stroke-width="1.8"/>
<line x1="366.50" y1="1067.00" x2="366.50" y2="1055.00" stroke="#5a5732" stroke-width="1.8"/>
<line x1="366.50" y1="881.80" x2="366.50" y2="893.80" stroke="#5a5732" stroke-width="1.8"/>
<line x1="426.50" y1="1067.00" x2="426.50" y2="1055.00" stroke="#5a5732" stroke-width="1.8"/>
<line x1="426.50" y1="881.80" x2="426.50" y2="893.80" stroke="#5a5732" stroke-width="1.8"/>
<line x1="485.50" y1="1067.00" x2="485.50" y2="1055.00" stroke="#5a5732" stroke-width="1.8"/>
<line x1="485.50" y1="881.80" x2="485.50" y2="893.80" stroke="#5a5732" stroke-width="1.8"/>
<line x1="544.50" y1="1067.00" x2="544.50" y2="1055.00" stroke="#5a5732" stroke-width="1.8"/>
<line x1="544.50" y1="881.80" x2="544.50" y2="893.80" stroke="#5a5732" stroke-width="1.8"/>
<line x1="603.50" y1="1067.00" x2="603.50" y2="1055.00" stroke="#5a5732" stroke-width="1.8"/>
<line x1="603.50" y1="881.80" x2="603.50" y2="893.80" stroke="#5a5732" stroke-width="1.8"/>
<line x1="663.50" y1="1067.00" x2="663.50" y2="1055.00" stroke="#5a5732" stroke-width="1.8"/>
<line x1="663.50" y1="881.80" x2="663.50" y2="893.80" stroke="#5a5732" stroke-width="1.8"/>
<line x1="722.50" y1="1067.00" x2="722.50" y2="1055.00" stroke="#5a5732" stroke-width="1.8"/>
<line x1="722.50" y1="881.80" x2="722.50" y2="893.80" stroke="#5a5732" stroke-width="1.8"/>
<line x1="781.50" y1="1067.00" x2="781.50" y2="1055.00" stroke="#5a5732" stroke-width="1.8"/>
<line x1="781.50" y1="881.80" x2="781.50" y2="893.80" stroke="#5a5732" stroke-width="1.8"/>
<line x1="840.50" y1="1067.00" x2="840.50" y2="1055.00" stroke="#5a5732" stroke-width="1.8"/>
<line x1="840.50" y1="881.80" x2="840.50" y2="893.80" stroke="#5a5732" stroke-width="1.8"/>
<line x1="900.50" y1="1067.00" x2="900.50" y2="1055.00" stroke="#5a5732" stroke-width="1.8"/>
<line x1="900.50" y1="881.80" x2="900.50" y2="893.80" stroke="#5a5732" stroke-width="1.8"/>
<line x1="959.50" y1="1067.00" x2="959.50" y2="1055.00" stroke="#5a5732" stroke-width="1.8"/>
<line x1="959.50" y1="881.80" x2="959.50" y2="893.80" stroke="#5a5732" stroke-width="1.8"/>
<line x1="70.50" y1="1029.50" x2="82.50" y2="1029.50" stroke="#5a5732" stroke-width="1.8"/>
<line x1="1018.50" y1="1029.50" x2="1006.50" y2="1029.50" stroke="#5a5732" stroke-width="1.8"/>
<line x1="70.50" y1="992.50" x2="82.50" y2="992.50" stroke="#5a5732" stroke-width="1.8"/>
<line x1="1018.50" y1="992.50" x2="1006.50" y2="992.50" stroke="#5a5732" stroke-width="1.8"/>
<line x1="70.50" y1="955.50" x2="82.50" y2="955.50" stroke="#5a5732" stroke-width="1.8"/>
<line x1="1018.50" y1="955.50" x2="1006.50" y2="955.50" stroke="#5a5732" stroke-width="1.8"/>
<line x1="70.50" y1="918.50" x2="82.50" y2="918.50" stroke="#5a5732" stroke-width="1.8"/>
<line x1="1018.50" y1="918.50" x2="1006.50" y2="918.50" stroke="#5a5732" stroke-width="1.8"/>
<rect x="70.50" y="881.80" width="948.00" height="185.20" fill="none" stroke="#76724c" stroke-width="1.7"/>
<path d="M70.50,912.32 L76.46,913.52 L82.42,914.71 L88.39,915.89 L94.35,917.06 L100.31,918.22 L106.27,919.37 L112.24,920.52 L118.20,921.65 L124.16,922.77 L130.12,923.89 L136.08,925.00 L142.05,926.09 L148.01,927.18 L153.97,928.26 L159.93,929.33 L165.90,930.39 L171.86,931.44 L177.82,932.49 L183.78,933.52 L189.75,934.55 L195.71,935.57 L201.67,936.57 L207.63,937.58 L213.59,938.57 L219.56,939.55 L225.52,940.53 L231.48,941.49 L237.44,942.45 L243.41,943.40 L249.37,944.34 L255.33,945.27 L261.29,946.20 L267.25,947.12 L273.22,948.03 L279.18,948.93 L285.14,949.82 L291.10,950.71 L297.07,951.58 L303.03,952.45 L308.99,953.32 L314.95,954.17 L320.92,955.02 L326.88,955.86 L332.84,956.69 L338.80,957.51 L344.76,958.33 L350.73,959.14 L356.69,959.94 L362.65,960.73 L368.61,961.52 L374.58,962.30 L380.54,963.07 L386.50,963.84 L392.46,964.59 L398.42,965.35 L404.39,966.09 L410.35,966.83 L416.31,967.56 L422.27,968.28 L428.24,969.00 L434.20,969.71 L440.16,970.41 L446.12,971.11 L452.08,971.80 L458.05,972.48 L464.01,973.16 L469.97,973.83 L475.93,974.49 L481.90,975.15 L487.86,975.80 L493.82,976.44 L499.78,977.08 L505.75,977.71 L511.71,978.34 L517.67,978.96 L523.63,979.57 L529.59,980.18 L535.56,980.78 L541.52,981.38 L547.48,981.97 L553.44,982.55 L559.41,983.13 L565.37,983.70 L571.33,984.27 L577.29,984.83 L583.25,985.39 L589.22,985.94 L595.18,986.48 L601.14,987.02 L607.10,987.55 L613.07,988.08 L619.03,988.60 L624.99,989.12 L630.95,989.63 L636.92,990.14 L642.88,990.64 L648.84,991.14 L654.80,991.63 L660.76,992.12 L666.73,992.60 L672.69,993.08 L678.65,993.55 L684.61,994.02 L690.58,994.48 L696.54,994.94 L702.50,995.39 L708.46,995.84 L714.42,996.29 L720.39,996.73 L726.35,997.16 L732.31,997.59 L738.27,998.02 L744.24,998.44 L750.20,998.86 L756.16,999.27 L762.12,999.68 L768.08,1000.09 L774.05,1000.49 L780.01,1000.89 L785.97,1001.28 L791.93,1001.67 L797.90,1002.05 L803.86,1002.43 L809.82,1002.81 L815.78,1003.19 L821.75,1003.56 L827.71,1003.92 L833.67,1004.28 L839.63,1004.64 L845.59,1005.00 L851.56,1005.35 L857.52,1005.70 L863.48,1006.04 L869.44,1006.39 L875.41,1006.73 L881.37,1007.06 L887.33,1007.39 L893.29,1007.72 L899.25,1008.05 L905.22,1008.37 L911.18,1008.69 L917.14,1009.01 L923.10,1009.32 L929.07,1009.63 L935.03,1009.94 L940.99,1010.25 L946.95,1010.55 L952.92,1010.85 L958.88,1011.15 L964.84,1011.44 L970.80,1011.73 L976.76,1012.02 L982.73,1012.31 L988.69,1012.59 L994.65,1012.88 L1000.61,1013.16 L1006.58,1013.43 L1012.54,1013.71 L1018.50,1013.98 L1018.50,1035.34 L1012.54,1035.14 L1006.58,1034.94 L1000.61,1034.75 L994.65,1034.55 L988.69,1034.35 L982.73,1034.15 L976.76,1033.96 L970.80,1033.76 L964.84,1033.56 L958.88,1033.37 L952.92,1033.17 L946.95,1032.97 L940.99,1032.78 L935.03,1032.58 L929.07,1032.38 L923.10,1032.18 L917.14,1031.98 L911.18,1031.79 L905.22,1031.59 L899.25,1031.38 L893.29,1031.18 L887.33,1030.98 L881.37,1030.78 L875.41,1030.57 L869.44,1030.37 L863.48,1030.16 L857.52,1029.95 L851.56,1029.74 L845.59,1029.53 L839.63,1029.32 L833.67,1029.11 L827.71,1028.89 L821.75,1028.67 L815.78,1028.45 L809.82,1028.23 L803.86,1028.01 L797.90,1027.79 L791.93,1027.56 L785.97,1027.33 L780.01,1027.10 L774.05,1026.87 L768.08,1026.63 L762.12,1026.39 L756.16,1026.15 L750.20,1025.91 L744.24,1025.67 L738.27,1025.42 L732.31,1025.17 L726.35,1024.91 L720.39,1024.66 L714.42,1024.40 L708.46,1024.13 L702.50,1023.87 L696.54,1023.60 L690.58,1023.32 L684.61,1023.05 L678.65,1022.77 L672.69,1022.49 L666.73,1022.20 L660.76,1021.91 L654.80,1021.62 L648.84,1021.32 L642.88,1021.02 L636.92,1020.71 L630.95,1020.40 L624.99,1020.09 L619.03,1019.77 L613.07,1019.45 L607.10,1019.12 L601.14,1018.79 L595.18,1018.46 L589.22,1018.12 L583.25,1017.77 L577.29,1017.43 L571.33,1017.07 L565.37,1016.71 L559.41,1016.35 L553.44,1015.98 L547.48,1015.61 L541.52,1015.23 L535.56,1014.85 L529.59,1014.46 L523.63,1014.06 L517.67,1013.66 L511.71,1013.26 L505.75,1012.85 L499.78,1012.43 L493.82,1012.01 L487.86,1011.58 L481.90,1011.15 L475.93,1010.71 L469.97,1010.27 L464.01,1009.82 L458.05,1009.36 L452.08,1008.89 L446.12,1008.42 L440.16,1007.95 L434.20,1007.47 L428.24,1006.98 L422.27,1006.48 L416.31,1005.98 L410.35,1005.47 L404.39,1004.95 L398.42,1004.43 L392.46,1003.90 L386.50,1003.37 L380.54,1002.82 L374.58,1002.27 L368.61,1001.71 L362.65,1001.15 L356.69,1000.58 L350.73,1000.00 L344.76,999.41 L338.80,998.81 L332.84,998.21 L326.88,997.60 L320.92,996.98 L314.95,996.36 L308.99,995.72 L303.03,995.08 L297.07,994.43 L291.10,993.77 L285.14,993.11 L279.18,992.43 L273.22,991.75 L267.25,991.06 L261.29,990.36 L255.33,989.65 L249.37,988.93 L243.41,988.21 L237.44,987.47 L231.48,986.73 L225.52,985.98 L219.56,985.21 L213.59,984.44 L207.63,983.66 L201.67,982.87 L195.71,982.08 L189.75,981.27 L183.78,980.45 L177.82,979.62 L171.86,978.79 L165.90,977.94 L159.93,977.09 L153.97,976.22 L148.01,975.34 L142.05,974.46 L136.08,973.56 L130.12,972.66 L124.16,971.74 L118.20,970.82 L112.24,969.88 L106.27,968.93 L100.31,967.97 L94.35,967.01 L88.39,966.03 L82.42,965.04 L76.46,964.04 L70.50,963.03Z" fill="#0000ff"/>
<line x1="71.1" y1="962" x2="71.1" y2="1011" stroke="#4040ff" stroke-width="1.3"/>
<g fill="#2b2914">
<text transform="translate(70.50,1081.10) scale(1.0,1.18)" font-size="10.6" text-anchor="middle">0</text>
<text transform="translate(129.75,1081.10) scale(1.0,1.18)" font-size="10.6" text-anchor="middle">0.25</text>
<text transform="translate(189.00,1081.10) scale(1.0,1.18)" font-size="10.6" text-anchor="middle">0.5</text>
<text transform="translate(248.25,1081.10) scale(1.0,1.18)" font-size="10.6" text-anchor="middle">0.75</text>
<text transform="translate(307.50,1081.10) scale(1.0,1.18)" font-size="10.6" text-anchor="middle">1</text>
<text transform="translate(366.75,1081.10) scale(1.0,1.18)" font-size="10.6" text-anchor="middle">1.25</text>
<text transform="translate(426.00,1081.10) scale(1.0,1.18)" font-size="10.6" text-anchor="middle">1.5</text>
<text transform="translate(485.25,1081.10) scale(1.0,1.18)" font-size="10.6" text-anchor="middle">1.75</text>
<text transform="translate(544.50,1081.10) scale(1.0,1.18)" font-size="10.6" text-anchor="middle">2</text>
<text transform="translate(603.75,1081.10) scale(1.0,1.18)" font-size="10.6" text-anchor="middle">2.25</text>
<text transform="translate(663.00,1081.10) scale(1.0,1.18)" font-size="10.6" text-anchor="middle">2.5</text>
<text transform="translate(722.25,1081.10) scale(1.0,1.18)" font-size="10.6" text-anchor="middle">2.75</text>
<text transform="translate(781.50,1081.10) scale(1.0,1.18)" font-size="10.6" text-anchor="middle">3</text>
<text transform="translate(840.75,1081.10) scale(1.0,1.18)" font-size="10.6" text-anchor="middle">3.25</text>
<text transform="translate(900.00,1081.10) scale(1.0,1.18)" font-size="10.6" text-anchor="middle">3.5</text>
<text transform="translate(959.25,1081.10) scale(1.0,1.18)" font-size="10.6" text-anchor="middle">3.75</text>
<text transform="translate(1018.50,1081.10) scale(1.0,1.18)" font-size="10.6" text-anchor="middle">4</text>
<text transform="translate(66.00,1071.40) scale(1.0,1.18)" font-size="10.6" text-anchor="end">155.5</text>
<text transform="translate(66.00,1034.36) scale(1.0,1.18)" font-size="10.6" text-anchor="end">155.55</text>
<text transform="translate(66.00,997.32) scale(1.0,1.18)" font-size="10.6" text-anchor="end">155.6</text>
<text transform="translate(66.00,960.28) scale(1.0,1.18)" font-size="10.6" text-anchor="end">155.65</text>
<text transform="translate(66.00,923.24) scale(1.0,1.18)" font-size="10.6" text-anchor="end">155.7</text>
<text transform="translate(66.00,886.20) scale(1.0,1.18)" font-size="10.6" text-anchor="end">155.75</text>
</g>
<text transform="translate(19.70,974.00) rotate(-90) scale(1.0,1.12)" font-size="13.6" text-anchor="middle" fill="#2b2914">Energy<tspan font-size="10" dy="5.6">Batteries</tspan><tspan dy="-5.6"> Sum. (Wh)</tspan></text>
<text transform="translate(543.30,1097.70) scale(1.0,1.12)" font-size="13.1" text-anchor="middle" fill="#2b2914">Time (h)</text>
<rect x="945.40" y="887.70" width="67.80" height="24.70" fill="#fff" stroke="#6e6a46" stroke-width="1.5"/>
<g fill="#2b2914">
<line x1="952.00" y1="899.60" x2="985.50" y2="899.60" stroke="#5050ff" stroke-width="1.6"/>
<text transform="translate(990.00,901.90) scale(1.0,1.12)" font-size="12">E<tspan font-size="9.2" dy="5">RL</tspan></text>
</g>
</svg></body></html>
